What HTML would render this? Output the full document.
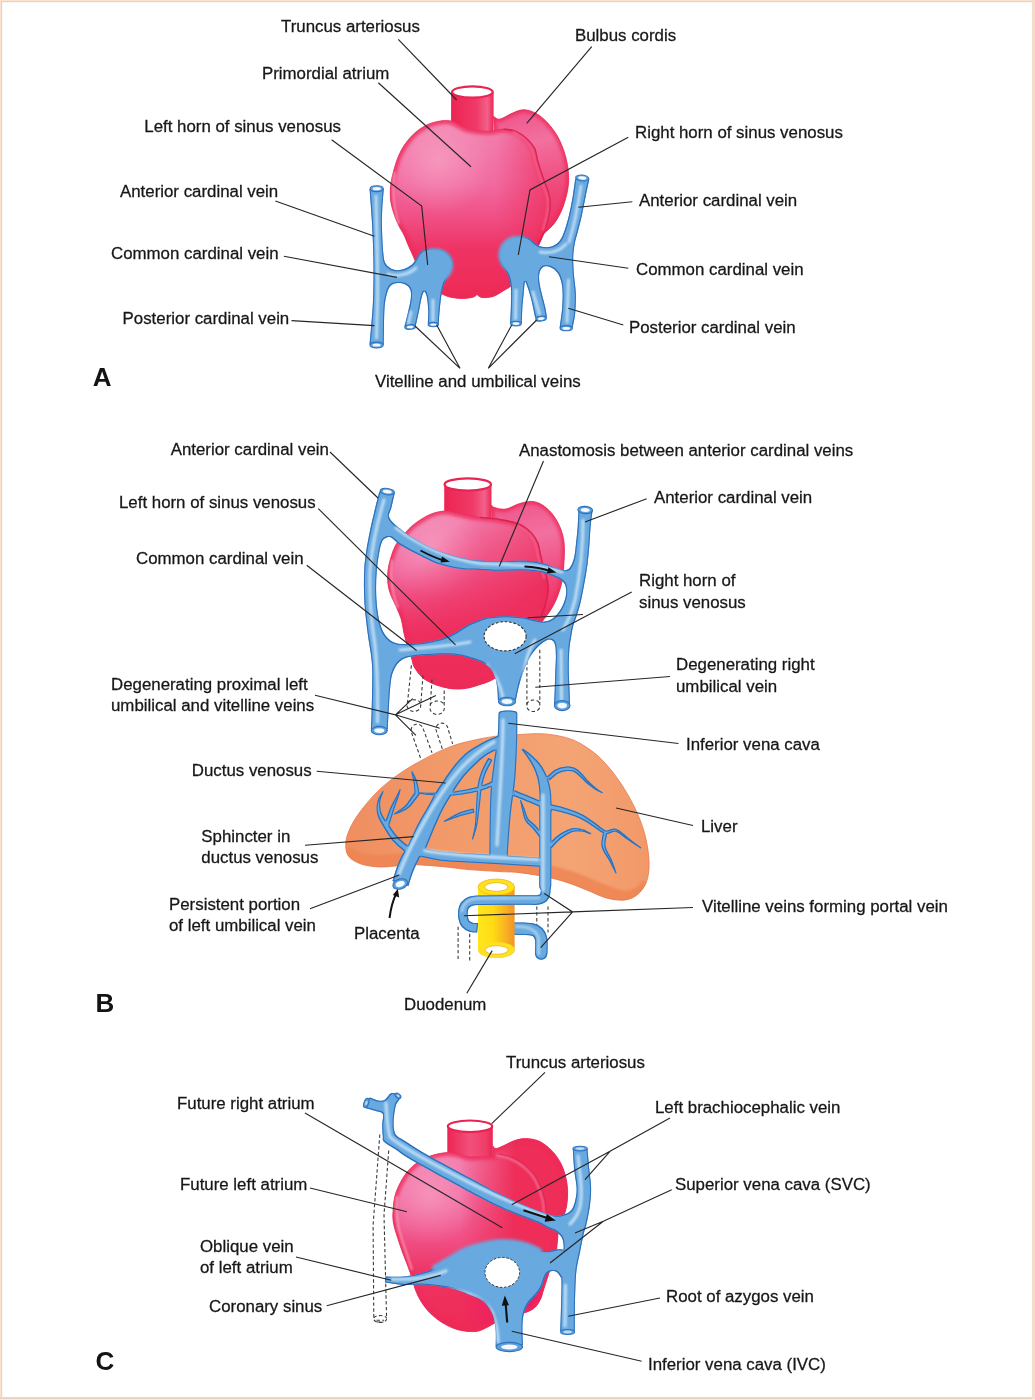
<!DOCTYPE html>
<html lang="en">
<head>
<meta charset="utf-8">
<title>Development of the sinus venosus and veins</title>
<style>
html,body{margin:0;padding:0;background:#fff;}
body{width:1035px;height:1400px;overflow:hidden;position:relative;font-family:"Liberation Sans",sans-serif;}
#frame{position:absolute;left:0;top:0;width:1035px;height:1400px;background:#fff;}
svg{position:absolute;left:0;top:0;display:block;}
.lbl text{font-family:"Liberation Sans",sans-serif;font-size:16.85px;fill:#151515;stroke:#151515;stroke-width:0.28px;}
.lbl text.fig{font-size:26px;font-weight:bold;fill:#111;stroke:none;}
.lead{fill:none;stroke:#262626;stroke-width:1.15;}
.dash{fill:none;stroke:#3c3c3c;stroke-width:1.1;stroke-dasharray:3.4 2.4;}
</style>
</head>
<body>
<div id="frame"></div>
<svg width="1035" height="1400" viewBox="0 0 1035 1400">
<g id="border" shape-rendering="crispEdges">
<rect x="0" y="0" width="1035" height="1" fill="#fde2cf"/>
<rect x="0" y="1" width="1035" height="1" fill="#e4d3c3"/>
<rect x="2" y="2" width="1030" height="1" fill="#faf6f2"/>
<rect x="0" y="0" width="1" height="1400" fill="#fee2cf"/>
<rect x="1" y="1" width="1" height="1398" fill="#e3d2c2"/>
<rect x="2" y="2" width="1" height="1395" fill="#faf8f6"/>
<rect x="1032" y="0" width="3" height="1400" fill="#f5dbc9"/>
<rect x="0" y="1397" width="1032" height="1" fill="#e8dabd"/>
<rect x="0" y="1398" width="1032" height="1" fill="#e3d3bf"/>
<rect x="0" y="1399" width="1035" height="1" fill="#fde8e0"/>
</g>
<defs>
<linearGradient id="gBodyA" gradientUnits="userSpaceOnUse" x1="0" y1="120" x2="0" y2="300">
<stop offset="0" stop-color="#f283b0"/><stop offset="0.35" stop-color="#f16aa0"/><stop offset="0.55" stop-color="#f04e84"/><stop offset="0.72" stop-color="#ee3363"/><stop offset="1" stop-color="#ee2a55"/>
</linearGradient>
<radialGradient id="gHiA" gradientUnits="userSpaceOnUse" cx="438" cy="160" r="55">
<stop offset="0" stop-color="#f9b3d0" stop-opacity="0.55"/><stop offset="1" stop-color="#f9b3d0" stop-opacity="0"/>
</radialGradient>
<linearGradient id="gRtA" gradientUnits="userSpaceOnUse" x1="495" y1="0" x2="552" y2="0">
<stop offset="0" stop-color="#ed2c5a" stop-opacity="0"/><stop offset="1" stop-color="#ed2c5a" stop-opacity="0.75"/>
</linearGradient>
<linearGradient id="gBulbA" gradientUnits="userSpaceOnUse" x1="525" y1="110" x2="555" y2="240">
<stop offset="0" stop-color="#f0568c"/><stop offset="0.25" stop-color="#f2709f"/><stop offset="0.6" stop-color="#ef4a7c"/><stop offset="1" stop-color="#ee2c5c"/>
</linearGradient>
<linearGradient id="gTubeA" gradientUnits="userSpaceOnUse" x1="451" y1="0" x2="494" y2="0">
<stop offset="0" stop-color="#ec2452"/><stop offset="0.6" stop-color="#f03a68"/><stop offset="0.85" stop-color="#f2608a"/><stop offset="1" stop-color="#ea2450"/>
</linearGradient>
<filter id="blur3" x="-30%" y="-30%" width="160%" height="160%"><feGaussianBlur stdDeviation="3"/></filter>
<filter id="blur2" x="-30%" y="-30%" width="160%" height="160%"><feGaussianBlur stdDeviation="1.6"/></filter>
<filter id="blur1" x="-30%" y="-30%" width="160%" height="160%"><feGaussianBlur stdDeviation="0.8"/></filter>
<filter id="vout" filterUnits="userSpaceOnUse" x="330" y="160" width="340" height="1200" color-interpolation-filters="sRGB">
<feMorphology in="SourceAlpha" operator="erode" radius="1" result="er"/>
<feGaussianBlur in="er" stdDeviation="0.35" result="erb"/>
<feComposite in="SourceAlpha" in2="erb" operator="out" result="ring"/>
<feFlood flood-color="#2c6fbb" result="fc"/>
<feComposite in="fc" in2="ring" operator="in" result="cring"/>
<feMerge><feMergeNode in="SourceGraphic"/><feMergeNode in="cring"/></feMerge>
</filter>

<linearGradient id="gBodyB" gradientUnits="userSpaceOnUse" x1="0" y1="510" x2="0" y2="690">
<stop offset="0" stop-color="#f283b0"/><stop offset="0.3" stop-color="#f16aa0"/><stop offset="0.5" stop-color="#f04e84"/><stop offset="0.68" stop-color="#ee3363"/><stop offset="1" stop-color="#ee2a55"/>
</linearGradient>
<radialGradient id="gHiB" gradientUnits="userSpaceOnUse" cx="432" cy="548" r="52">
<stop offset="0" stop-color="#f9b3d0" stop-opacity="0.5"/><stop offset="1" stop-color="#f9b3d0" stop-opacity="0"/>
</radialGradient>
<linearGradient id="gRtB" gradientUnits="userSpaceOnUse" x1="455" y1="525" x2="528" y2="598">
<stop offset="0" stop-color="#ed2c5a" stop-opacity="0"/><stop offset="1" stop-color="#ed2c5a" stop-opacity="0.9"/>
</linearGradient>
<linearGradient id="gBulbB" gradientUnits="userSpaceOnUse" x1="525" y1="500" x2="555" y2="620">
<stop offset="0" stop-color="#f0568c"/><stop offset="0.3" stop-color="#f2709f"/><stop offset="0.65" stop-color="#ef4a7c"/><stop offset="1" stop-color="#ee2c5c"/>
</linearGradient>
<linearGradient id="gTubeB" gradientUnits="userSpaceOnUse" x1="444" y1="0" x2="492" y2="0">
<stop offset="0" stop-color="#ec2452"/><stop offset="0.6" stop-color="#f03a68"/><stop offset="0.85" stop-color="#f2608a"/><stop offset="1" stop-color="#ea2450"/>
</linearGradient>
<linearGradient id="gLiver" gradientUnits="userSpaceOnUse" x1="345" y1="0" x2="650" y2="0">
<stop offset="0" stop-color="#ef8e60"/><stop offset="0.35" stop-color="#f29a6a"/><stop offset="0.75" stop-color="#f4a474"/><stop offset="1" stop-color="#f29868"/>
</linearGradient>
<linearGradient id="gDuo" gradientUnits="userSpaceOnUse" x1="478" y1="0" x2="514.6" y2="0">
<stop offset="0" stop-color="#ffe61e"/><stop offset="0.4" stop-color="#ffdc14"/><stop offset="0.75" stop-color="#f9b222"/><stop offset="1" stop-color="#f0942a"/>
</linearGradient>

<linearGradient id="gBodyC" gradientUnits="userSpaceOnUse" x1="0" y1="1150" x2="0" y2="1332">
<stop offset="0" stop-color="#f283b0"/><stop offset="0.3" stop-color="#f16aa0"/><stop offset="0.5" stop-color="#f04e84"/><stop offset="0.68" stop-color="#ee3363"/><stop offset="1" stop-color="#ee2a55"/>
</linearGradient>
<radialGradient id="gHiC" gradientUnits="userSpaceOnUse" cx="430" cy="1195" r="50">
<stop offset="0" stop-color="#f9b3d0" stop-opacity="0.5"/><stop offset="1" stop-color="#f9b3d0" stop-opacity="0"/>
</radialGradient>
<linearGradient id="gRtC" gradientUnits="userSpaceOnUse" x1="460" y1="0" x2="515" y2="0">
<stop offset="0" stop-color="#ee2d58" stop-opacity="0"/><stop offset="1" stop-color="#ee2d58" stop-opacity="1"/>
</linearGradient>
<radialGradient id="gMgC" gradientUnits="userSpaceOnUse" cx="520" cy="1300" r="60">
<stop offset="0" stop-color="#ec1468" stop-opacity="0.8"/><stop offset="1" stop-color="#ec1468" stop-opacity="0"/>
</radialGradient>
<linearGradient id="gTubeC" gradientUnits="userSpaceOnUse" x1="447" y1="0" x2="493" y2="0">
<stop offset="0" stop-color="#ec2452"/><stop offset="0.5" stop-color="#f2507c"/><stop offset="0.85" stop-color="#f03c68"/><stop offset="1" stop-color="#ea2450"/>
</linearGradient>

</defs>
<g id="figA">
<clipPath id="clipA"><path d="M451 121 C446.5 119.9 442.4 120.5 438 121.4 C433.6 122.3 428.9 123.6 424.4 126.2 C419.9 128.8 415.1 132.1 410.9 136.8 C406.7 141.5 402.5 147.1 399.3 154.2 C396.1 161.3 393.1 171.9 391.6 179.3 C390.1 186.7 390.1 192.9 390.5 198.7 C390.9 204.5 392.6 209.4 394 214 C395.4 218.6 397.3 222.5 399 226 C400.7 229.5 402.3 231.5 404 235 C405.7 238.5 407.3 243.2 409 247 C410.7 250.8 412.2 253.8 414 258 C415.8 262.2 417.3 267.3 420 272 C422.7 276.7 426.3 282.3 430 286 C433.7 289.7 438.3 292.1 442 294 C445.7 295.9 448.5 296.8 452 297.5 C455.5 298.2 459.5 298.6 463 298.5 C466.5 298.4 470.7 297.8 473 297.2 C475.3 296.6 476.3 295 477 294.6 C477.8 295.1 479.3 297.2 482 297.5 C484.7 297.8 489.5 297.6 493 296.5 C496.5 295.4 499.3 293.2 503 291 C506.7 288.8 510.8 286.8 515 283 C519.2 279.2 524.2 274 528 268 C531.8 262 535.2 253.3 538 247 C540.8 240.7 543.1 235.8 545 230 C546.9 224.2 548.7 217 549.5 212 C550.3 207 550.2 203.5 550 200 C549.8 196.5 549.3 195.1 548 191 C546.7 186.9 544 180.7 542.3 175.5 C540.5 170.3 538.8 164.5 537.5 160 C536.2 155.5 536.4 151.9 534.6 148.4 C532.8 144.9 530.1 141.7 526.9 138.8 C523.7 135.9 519.2 132.6 515.3 131 C511.4 129.4 507.6 129.1 503.7 129.1 C499.8 129.1 495.9 130.7 492 131 C488.1 131.3 485 131.5 480.5 131 C476 130.5 469.9 129.8 465 128.1 C460.1 126.4 455.5 122.1 451 121Z"/><path d="M493.6 116.5 C494.6 117 496.8 119.7 499.8 119.2 C502.8 118.7 507.5 115.2 511.4 113.6 C515.3 112 519.1 109.9 523 109.8 C526.9 109.7 530.7 110.8 534.6 112.7 C538.5 114.6 542.3 117.4 546.2 121.4 C550.1 125.4 554.6 131 557.8 136.8 C561 142.6 563.7 149.8 565.5 156.2 C567.3 162.6 568.3 169.8 568.6 175.5 C568.9 181.2 568.5 185.2 567.5 190.7 C566.5 196.2 564.4 203.3 562.3 208.7 C560.1 214.1 557.6 218.8 554.6 222.9 C551.6 227 547.5 230.2 544.3 233.2 C541.1 236.2 536.8 239.6 535.3 240.9 C532.8 234.1 522.5 206.8 520 200 C515.8 189.2 499.2 145.8 495 135 C494.8 131.9 493.8 119.6 493.6 116.5Z"/></clipPath>
<path d="M493.6 116.5 C494.6 117 496.8 119.7 499.8 119.2 C502.8 118.7 507.5 115.2 511.4 113.6 C515.3 112 519.1 109.9 523 109.8 C526.9 109.7 530.7 110.8 534.6 112.7 C538.5 114.6 542.3 117.4 546.2 121.4 C550.1 125.4 554.6 131 557.8 136.8 C561 142.6 563.7 149.8 565.5 156.2 C567.3 162.6 568.3 169.8 568.6 175.5 C568.9 181.2 568.5 185.2 567.5 190.7 C566.5 196.2 564.4 203.3 562.3 208.7 C560.1 214.1 557.6 218.8 554.6 222.9 C551.6 227 547.5 230.2 544.3 233.2 C541.1 236.2 536.8 239.6 535.3 240.9 C532.8 234.1 522.5 206.8 520 200 C515.8 189.2 499.2 145.8 495 135 C494.8 131.9 493.8 119.6 493.6 116.5Z" fill="url(#gBulbA)" stroke="#e3245a" stroke-width="0.8"/>
<clipPath id="clipBulbA"><path d="M493.6 116.5 C494.6 117 496.8 119.7 499.8 119.2 C502.8 118.7 507.5 115.2 511.4 113.6 C515.3 112 519.1 109.9 523 109.8 C526.9 109.7 530.7 110.8 534.6 112.7 C538.5 114.6 542.3 117.4 546.2 121.4 C550.1 125.4 554.6 131 557.8 136.8 C561 142.6 563.7 149.8 565.5 156.2 C567.3 162.6 568.3 169.8 568.6 175.5 C568.9 181.2 568.5 185.2 567.5 190.7 C566.5 196.2 564.4 203.3 562.3 208.7 C560.1 214.1 557.6 218.8 554.6 222.9 C551.6 227 547.5 230.2 544.3 233.2 C541.1 236.2 536.8 239.6 535.3 240.9 C532.8 234.1 522.5 206.8 520 200 C515.8 189.2 499.2 145.8 495 135 C494.8 131.9 493.8 119.6 493.6 116.5Z"/></clipPath>
<g clip-path="url(#clipBulbA)"><path d="M493.6 116.5 C494.6 117 496.8 119.7 499.8 119.2 C502.8 118.7 507.5 115.2 511.4 113.6 C515.3 112 519.1 109.9 523 109.8 C526.9 109.7 530.7 110.8 534.6 112.7 C538.5 114.6 542.3 117.4 546.2 121.4 C550.1 125.4 554.6 131 557.8 136.8 C561 142.6 563.7 149.8 565.5 156.2 C567.3 162.6 568.3 169.8 568.6 175.5 C568.9 181.2 568.5 185.2 567.5 190.7 C566.5 196.2 564.4 203.3 562.3 208.7 C560.1 214.1 557.6 218.8 554.6 222.9 C551.6 227 547.5 230.2 544.3 233.2 C541.1 236.2 536.8 239.6 535.3 240.9 C532.8 234.1 522.5 206.8 520 200 C515.8 189.2 499.2 145.8 495 135 C494.8 131.9 493.8 119.6 493.6 116.5Z" fill="none" stroke="#ee2c58" stroke-width="6" opacity="0.7" filter="url(#blur2)"/></g>
<path d="M451.1 92 L451.1 128 L493.6 133 L493.6 92 Z" fill="url(#gTubeA)"/>
<path d="M451 121 C446.5 119.9 442.4 120.5 438 121.4 C433.6 122.3 428.9 123.6 424.4 126.2 C419.9 128.8 415.1 132.1 410.9 136.8 C406.7 141.5 402.5 147.1 399.3 154.2 C396.1 161.3 393.1 171.9 391.6 179.3 C390.1 186.7 390.1 192.9 390.5 198.7 C390.9 204.5 392.6 209.4 394 214 C395.4 218.6 397.3 222.5 399 226 C400.7 229.5 402.3 231.5 404 235 C405.7 238.5 407.3 243.2 409 247 C410.7 250.8 412.2 253.8 414 258 C415.8 262.2 417.3 267.3 420 272 C422.7 276.7 426.3 282.3 430 286 C433.7 289.7 438.3 292.1 442 294 C445.7 295.9 448.5 296.8 452 297.5 C455.5 298.2 459.5 298.6 463 298.5 C466.5 298.4 470.7 297.8 473 297.2 C475.3 296.6 476.3 295 477 294.6 C477.8 295.1 479.3 297.2 482 297.5 C484.7 297.8 489.5 297.6 493 296.5 C496.5 295.4 499.3 293.2 503 291 C506.7 288.8 510.8 286.8 515 283 C519.2 279.2 524.2 274 528 268 C531.8 262 535.2 253.3 538 247 C540.8 240.7 543.1 235.8 545 230 C546.9 224.2 548.7 217 549.5 212 C550.3 207 550.2 203.5 550 200 C549.8 196.5 549.3 195.1 548 191 C546.7 186.9 544 180.7 542.3 175.5 C540.5 170.3 538.8 164.5 537.5 160 C536.2 155.5 536.4 151.9 534.6 148.4 C532.8 144.9 530.1 141.7 526.9 138.8 C523.7 135.9 519.2 132.6 515.3 131 C511.4 129.4 507.6 129.1 503.7 129.1 C499.8 129.1 495.9 130.7 492 131 C488.1 131.3 485 131.5 480.5 131 C476 130.5 469.9 129.8 465 128.1 C460.1 126.4 455.5 122.1 451 121Z" fill="url(#gBodyA)" stroke="#e9295d" stroke-width="0.8"/>
<path d="M451 121 C446.5 119.9 442.4 120.5 438 121.4 C433.6 122.3 428.9 123.6 424.4 126.2 C419.9 128.8 415.1 132.1 410.9 136.8 C406.7 141.5 402.5 147.1 399.3 154.2 C396.1 161.3 393.1 171.9 391.6 179.3 C390.1 186.7 390.1 192.9 390.5 198.7 C390.9 204.5 392.6 209.4 394 214 C395.4 218.6 397.3 222.5 399 226 C400.7 229.5 402.3 231.5 404 235 C405.7 238.5 407.3 243.2 409 247 C410.7 250.8 412.2 253.8 414 258 C415.8 262.2 417.3 267.3 420 272 C422.7 276.7 426.3 282.3 430 286 C433.7 289.7 438.3 292.1 442 294 C445.7 295.9 448.5 296.8 452 297.5 C455.5 298.2 459.5 298.6 463 298.5 C466.5 298.4 470.7 297.8 473 297.2 C475.3 296.6 476.3 295 477 294.6 C477.8 295.1 479.3 297.2 482 297.5 C484.7 297.8 489.5 297.6 493 296.5 C496.5 295.4 499.3 293.2 503 291 C506.7 288.8 510.8 286.8 515 283 C519.2 279.2 524.2 274 528 268 C531.8 262 535.2 253.3 538 247 C540.8 240.7 543.1 235.8 545 230 C546.9 224.2 548.7 217 549.5 212 C550.3 207 550.2 203.5 550 200 C549.8 196.5 549.3 195.1 548 191 C546.7 186.9 544 180.7 542.3 175.5 C540.5 170.3 538.8 164.5 537.5 160 C536.2 155.5 536.4 151.9 534.6 148.4 C532.8 144.9 530.1 141.7 526.9 138.8 C523.7 135.9 519.2 132.6 515.3 131 C511.4 129.4 507.6 129.1 503.7 129.1 C499.8 129.1 495.9 130.7 492 131 C488.1 131.3 485 131.5 480.5 131 C476 130.5 469.9 129.8 465 128.1 C460.1 126.4 455.5 122.1 451 121Z" fill="url(#gHiA)"/>
<path d="M451 121 C446.5 119.9 442.4 120.5 438 121.4 C433.6 122.3 428.9 123.6 424.4 126.2 C419.9 128.8 415.1 132.1 410.9 136.8 C406.7 141.5 402.5 147.1 399.3 154.2 C396.1 161.3 393.1 171.9 391.6 179.3 C390.1 186.7 390.1 192.9 390.5 198.7 C390.9 204.5 392.6 209.4 394 214 C395.4 218.6 397.3 222.5 399 226 C400.7 229.5 402.3 231.5 404 235 C405.7 238.5 407.3 243.2 409 247 C410.7 250.8 412.2 253.8 414 258 C415.8 262.2 417.3 267.3 420 272 C422.7 276.7 426.3 282.3 430 286 C433.7 289.7 438.3 292.1 442 294 C445.7 295.9 448.5 296.8 452 297.5 C455.5 298.2 459.5 298.6 463 298.5 C466.5 298.4 470.7 297.8 473 297.2 C475.3 296.6 476.3 295 477 294.6 C477.8 295.1 479.3 297.2 482 297.5 C484.7 297.8 489.5 297.6 493 296.5 C496.5 295.4 499.3 293.2 503 291 C506.7 288.8 510.8 286.8 515 283 C519.2 279.2 524.2 274 528 268 C531.8 262 535.2 253.3 538 247 C540.8 240.7 543.1 235.8 545 230 C546.9 224.2 548.7 217 549.5 212 C550.3 207 550.2 203.5 550 200 C549.8 196.5 549.3 195.1 548 191 C546.7 186.9 544 180.7 542.3 175.5 C540.5 170.3 538.8 164.5 537.5 160 C536.2 155.5 536.4 151.9 534.6 148.4 C532.8 144.9 530.1 141.7 526.9 138.8 C523.7 135.9 519.2 132.6 515.3 131 C511.4 129.4 507.6 129.1 503.7 129.1 C499.8 129.1 495.9 130.7 492 131 C488.1 131.3 485 131.5 480.5 131 C476 130.5 469.9 129.8 465 128.1 C460.1 126.4 455.5 122.1 451 121Z" fill="url(#gRtA)"/>
<clipPath id="clipBodyA"><path d="M451 121 C446.5 119.9 442.4 120.5 438 121.4 C433.6 122.3 428.9 123.6 424.4 126.2 C419.9 128.8 415.1 132.1 410.9 136.8 C406.7 141.5 402.5 147.1 399.3 154.2 C396.1 161.3 393.1 171.9 391.6 179.3 C390.1 186.7 390.1 192.9 390.5 198.7 C390.9 204.5 392.6 209.4 394 214 C395.4 218.6 397.3 222.5 399 226 C400.7 229.5 402.3 231.5 404 235 C405.7 238.5 407.3 243.2 409 247 C410.7 250.8 412.2 253.8 414 258 C415.8 262.2 417.3 267.3 420 272 C422.7 276.7 426.3 282.3 430 286 C433.7 289.7 438.3 292.1 442 294 C445.7 295.9 448.5 296.8 452 297.5 C455.5 298.2 459.5 298.6 463 298.5 C466.5 298.4 470.7 297.8 473 297.2 C475.3 296.6 476.3 295 477 294.6 C477.8 295.1 479.3 297.2 482 297.5 C484.7 297.8 489.5 297.6 493 296.5 C496.5 295.4 499.3 293.2 503 291 C506.7 288.8 510.8 286.8 515 283 C519.2 279.2 524.2 274 528 268 C531.8 262 535.2 253.3 538 247 C540.8 240.7 543.1 235.8 545 230 C546.9 224.2 548.7 217 549.5 212 C550.3 207 550.2 203.5 550 200 C549.8 196.5 549.3 195.1 548 191 C546.7 186.9 544 180.7 542.3 175.5 C540.5 170.3 538.8 164.5 537.5 160 C536.2 155.5 536.4 151.9 534.6 148.4 C532.8 144.9 530.1 141.7 526.9 138.8 C523.7 135.9 519.2 132.6 515.3 131 C511.4 129.4 507.6 129.1 503.7 129.1 C499.8 129.1 495.9 130.7 492 131 C488.1 131.3 485 131.5 480.5 131 C476 130.5 469.9 129.8 465 128.1 C460.1 126.4 455.5 122.1 451 121Z"/></clipPath>
<g clip-path="url(#clipBodyA)"><path d="M451 121 C446.5 119.9 442.4 120.5 438 121.4 C433.6 122.3 428.9 123.6 424.4 126.2 C419.9 128.8 415.1 132.1 410.9 136.8 C406.7 141.5 402.5 147.1 399.3 154.2 C396.1 161.3 393.1 171.9 391.6 179.3 C390.1 186.7 390.1 192.9 390.5 198.7 C390.9 204.5 392.6 209.4 394 214 C395.4 218.6 397.3 222.5 399 226 C400.7 229.5 402.3 231.5 404 235 C405.7 238.5 407.3 243.2 409 247 C410.7 250.8 412.2 253.8 414 258 C415.8 262.2 417.3 267.3 420 272 C422.7 276.7 426.3 282.3 430 286 C433.7 289.7 438.3 292.1 442 294 C445.7 295.9 448.5 296.8 452 297.5 C455.5 298.2 459.5 298.6 463 298.5 C466.5 298.4 470.7 297.8 473 297.2 C475.3 296.6 476.3 295 477 294.6 C477.8 295.1 479.3 297.2 482 297.5 C484.7 297.8 489.5 297.6 493 296.5 C496.5 295.4 499.3 293.2 503 291 C506.7 288.8 510.8 286.8 515 283 C519.2 279.2 524.2 274 528 268 C531.8 262 535.2 253.3 538 247 C540.8 240.7 543.1 235.8 545 230 C546.9 224.2 548.7 217 549.5 212 C550.3 207 550.2 203.5 550 200 C549.8 196.5 549.3 195.1 548 191 C546.7 186.9 544 180.7 542.3 175.5 C540.5 170.3 538.8 164.5 537.5 160 C536.2 155.5 536.4 151.9 534.6 148.4 C532.8 144.9 530.1 141.7 526.9 138.8 C523.7 135.9 519.2 132.6 515.3 131 C511.4 129.4 507.6 129.1 503.7 129.1 C499.8 129.1 495.9 130.7 492 131 C488.1 131.3 485 131.5 480.5 131 C476 130.5 469.9 129.8 465 128.1 C460.1 126.4 455.5 122.1 451 121Z" fill="none" stroke="#ee2c58" stroke-width="7" opacity="0.75" filter="url(#blur2)"/></g>
<path d="M503.7 129.1 C505.6 129.4 511.4 129.4 515.3 131 C519.2 132.6 523.7 135.9 526.9 138.8 C530.1 141.7 532.8 144.9 534.6 148.4 C536.4 151.9 536.2 155.5 537.5 160 C538.8 164.5 540.5 170.3 542.3 175.5 C544 180.7 546.7 186.9 548 191 C549.3 195.1 549.8 196.5 550 200 C550.2 203.5 550.3 207 549.5 212 C548.7 217 546.9 224.7 545 230 C543.1 235.3 539.2 241.7 538 244" fill="none" stroke="#d61c50" stroke-width="1.3" opacity="0.9"/>
<path d="M515.3 131 C517.2 132.3 523.7 135.9 526.9 138.8 C530.1 141.7 532.8 144.9 534.6 148.4 C536.4 151.9 536.2 155.5 537.5 160 C538.8 164.5 540.5 170.3 542.3 175.5 C544 180.7 546.7 186.9 548 191 C549.3 195.1 549.8 196.5 550 200 C550.2 203.5 550.3 207 549.5 212 C548.7 217 545.8 227 545 230" fill="none" stroke="#f79bbd" stroke-width="1.2" opacity="0.8" transform="translate(-2.2,0.6)" filter="url(#blur1)"/>
<path d="M394.5 172 C391.8 190 393.5 208 399 224" fill="none" stroke="#fbc4d8" stroke-width="1.6" opacity="0.8" filter="url(#blur1)"/>
<ellipse cx="472.4" cy="92" rx="20.3" ry="5.6" fill="#fff" stroke="#ea2452" stroke-width="2.2"/>
<clipPath id="clipVA"><path d="M369.6 189.1 C372 189.1 381.4 189.1 383.8 189.1 C383.5 192.6 382.5 203.8 382.2 210 C381.9 216.2 381.7 219.4 381.9 226.4 C382.1 233.4 382.6 246 383.2 252.2 C383.8 258.4 384 260.8 385.7 263.7 C387.4 266.6 390.6 268.5 393.4 269.5 C396.2 270.5 399.4 270.2 402.4 269.5 C405.4 268.8 409 266.8 411.4 265 C413.8 263.2 415.1 260.7 416.6 258.6 C418.1 256.5 418.6 253.8 420.5 252.2 C422.4 250.6 425 249.4 428.2 249 C431.4 248.6 436.3 248.7 439.7 249.6 C443.1 250.5 446.5 252.5 448.7 254.7 C450.9 256.8 452.4 259.5 452.6 262.5 C452.8 265.5 451.3 269.5 450 272.7 C448.7 275.9 446.3 278.4 444.9 281.8 C443.5 285.2 442.6 288.6 441.7 293.3 C440.8 298 440.2 304.9 439.7 310 C439.2 315.1 438.9 321.8 438.7 324.2 C436.9 324.2 429.7 324.2 427.9 324.2 C427.9 321.8 428.4 314.5 428.2 310 C428 305.5 427.5 300.3 426.9 297.2 C426.2 294.1 425.2 291.4 424.3 291.4 C423.4 291.4 422.6 294.1 421.7 297.2 C420.8 300.3 420.2 305.3 419.2 310 C418.2 314.7 416.4 322.9 415.9 325.5 C414 325.7 406.3 326.6 404.4 326.8 C404.9 324.6 406.5 318.6 407.6 313.9 C408.7 309.2 410.4 302.6 410.8 298.5 C411.2 294.4 411.2 291.9 410.2 289.5 C409.2 287.1 407.1 285.4 405 284.3 C402.9 283.2 399.7 282.8 397.3 283 C394.9 283.2 392.6 283.9 390.9 285.6 C389.2 287.3 388.1 289.2 387 293.3 C385.9 297.4 384.9 301.4 384.4 310 C383.9 318.6 383.9 339 383.8 344.8 C381.4 344.8 372 344.8 369.6 344.8 C370.2 337.9 372.2 316.9 372.9 303.6 C373.5 290.3 373.6 277.9 373.5 265 C373.4 252.1 372.8 239.1 372.2 226.4 C371.6 213.8 370 195.3 369.6 189.1Z"/><path d="M575.2 179.1 C577.6 179.1 586.9 179.1 589.3 179.1 C588.7 182.1 586.8 191 585.5 197.2 C584.2 203.4 582.9 210.6 581.6 216.4 C580.3 222.2 578.9 227.2 577.7 231.9 C576.5 236.6 575.2 240.4 574.5 244.7 C573.8 249 573.3 252.7 573.2 257.6 C573.1 262.5 573.5 268.3 573.9 274.3 C574.3 280.3 575.6 287.2 575.8 293.6 C576 300 575.7 307.2 575.2 312.9 C574.7 318.6 573 325.2 572.6 327.7 C570.5 327.7 561.9 327.7 559.7 327.7 C560.1 324.2 561.9 313.2 562.3 306.5 C562.7 299.8 562.9 292.6 562.3 287.2 C561.7 281.8 560.2 277.5 558.5 274.3 C556.8 271.1 554.4 269.2 552 267.9 C549.6 266.6 546.3 266 544.3 266.6 C542.3 267.2 540.6 269.4 539.8 271.8 C538.9 274.2 538.9 277.2 539.2 280.8 C539.5 284.4 540.7 289.3 541.7 293.6 C542.7 297.9 544.1 302.6 545 306.5 C545.9 310.4 546.6 315.1 546.9 316.8 C545 317 537.2 317.8 535.3 318 C534.6 315 532.7 305.1 531.4 300 C530.1 294.9 528.7 290.2 527.6 287.2 C526.5 284.2 525.6 280.9 525 282 C524.4 283.1 524.1 289.5 523.7 293.6 C523.3 297.7 522.7 301.6 522.4 306.5 C522.1 311.4 521.9 320.4 521.8 323.2 C519.9 323.2 512.1 323.2 510.2 323.2 C510.3 320.4 510.8 312.5 510.9 306.5 C511 300.5 511.4 292.6 510.9 287.2 C510.4 281.8 509.2 277.9 507.7 274.3 C506.2 270.7 503.3 268.1 501.9 265.3 C500.5 262.5 499.3 260.6 499.3 257.6 C499.3 254.6 500.2 250.3 501.9 247.3 C503.6 244.3 506.6 241.4 509.6 239.6 C512.6 237.8 516.7 236.6 519.9 236.4 C523.1 236.2 526.3 237.1 528.9 238.3 C531.5 239.5 533.2 242.1 535.3 243.5 C537.4 244.9 539.1 246.2 541.7 246.7 C544.3 247.2 547.9 247.4 550.7 246.7 C553.5 245.9 556.4 244.4 558.5 242.2 C560.6 239.9 561.9 237.5 563.6 233.2 C565.3 228.9 567.2 222.4 568.7 216.4 C570.2 210.4 571.5 203.4 572.6 197.2 C573.7 191 574.8 182.1 575.2 179.1Z"/></clipPath>
<g filter="url(#vout)">
<path d="M369.6 189.1 C372 189.1 381.4 189.1 383.8 189.1 C383.5 192.6 382.5 203.8 382.2 210 C381.9 216.2 381.7 219.4 381.9 226.4 C382.1 233.4 382.6 246 383.2 252.2 C383.8 258.4 384 260.8 385.7 263.7 C387.4 266.6 390.6 268.5 393.4 269.5 C396.2 270.5 399.4 270.2 402.4 269.5 C405.4 268.8 409 266.8 411.4 265 C413.8 263.2 415.1 260.7 416.6 258.6 C418.1 256.5 418.6 253.8 420.5 252.2 C422.4 250.6 425 249.4 428.2 249 C431.4 248.6 436.3 248.7 439.7 249.6 C443.1 250.5 446.5 252.5 448.7 254.7 C450.9 256.8 452.4 259.5 452.6 262.5 C452.8 265.5 451.3 269.5 450 272.7 C448.7 275.9 446.3 278.4 444.9 281.8 C443.5 285.2 442.6 288.6 441.7 293.3 C440.8 298 440.2 304.9 439.7 310 C439.2 315.1 438.9 321.8 438.7 324.2 C436.9 324.2 429.7 324.2 427.9 324.2 C427.9 321.8 428.4 314.5 428.2 310 C428 305.5 427.5 300.3 426.9 297.2 C426.2 294.1 425.2 291.4 424.3 291.4 C423.4 291.4 422.6 294.1 421.7 297.2 C420.8 300.3 420.2 305.3 419.2 310 C418.2 314.7 416.4 322.9 415.9 325.5 C414 325.7 406.3 326.6 404.4 326.8 C404.9 324.6 406.5 318.6 407.6 313.9 C408.7 309.2 410.4 302.6 410.8 298.5 C411.2 294.4 411.2 291.9 410.2 289.5 C409.2 287.1 407.1 285.4 405 284.3 C402.9 283.2 399.7 282.8 397.3 283 C394.9 283.2 392.6 283.9 390.9 285.6 C389.2 287.3 388.1 289.2 387 293.3 C385.9 297.4 384.9 301.4 384.4 310 C383.9 318.6 383.9 339 383.8 344.8 C381.4 344.8 372 344.8 369.6 344.8 C370.2 337.9 372.2 316.9 372.9 303.6 C373.5 290.3 373.6 277.9 373.5 265 C373.4 252.1 372.8 239.1 372.2 226.4 C371.6 213.8 370 195.3 369.6 189.1Z" fill="#68a9df"/>
<path d="M575.2 179.1 C577.6 179.1 586.9 179.1 589.3 179.1 C588.7 182.1 586.8 191 585.5 197.2 C584.2 203.4 582.9 210.6 581.6 216.4 C580.3 222.2 578.9 227.2 577.7 231.9 C576.5 236.6 575.2 240.4 574.5 244.7 C573.8 249 573.3 252.7 573.2 257.6 C573.1 262.5 573.5 268.3 573.9 274.3 C574.3 280.3 575.6 287.2 575.8 293.6 C576 300 575.7 307.2 575.2 312.9 C574.7 318.6 573 325.2 572.6 327.7 C570.5 327.7 561.9 327.7 559.7 327.7 C560.1 324.2 561.9 313.2 562.3 306.5 C562.7 299.8 562.9 292.6 562.3 287.2 C561.7 281.8 560.2 277.5 558.5 274.3 C556.8 271.1 554.4 269.2 552 267.9 C549.6 266.6 546.3 266 544.3 266.6 C542.3 267.2 540.6 269.4 539.8 271.8 C538.9 274.2 538.9 277.2 539.2 280.8 C539.5 284.4 540.7 289.3 541.7 293.6 C542.7 297.9 544.1 302.6 545 306.5 C545.9 310.4 546.6 315.1 546.9 316.8 C545 317 537.2 317.8 535.3 318 C534.6 315 532.7 305.1 531.4 300 C530.1 294.9 528.7 290.2 527.6 287.2 C526.5 284.2 525.6 280.9 525 282 C524.4 283.1 524.1 289.5 523.7 293.6 C523.3 297.7 522.7 301.6 522.4 306.5 C522.1 311.4 521.9 320.4 521.8 323.2 C519.9 323.2 512.1 323.2 510.2 323.2 C510.3 320.4 510.8 312.5 510.9 306.5 C511 300.5 511.4 292.6 510.9 287.2 C510.4 281.8 509.2 277.9 507.7 274.3 C506.2 270.7 503.3 268.1 501.9 265.3 C500.5 262.5 499.3 260.6 499.3 257.6 C499.3 254.6 500.2 250.3 501.9 247.3 C503.6 244.3 506.6 241.4 509.6 239.6 C512.6 237.8 516.7 236.6 519.9 236.4 C523.1 236.2 526.3 237.1 528.9 238.3 C531.5 239.5 533.2 242.1 535.3 243.5 C537.4 244.9 539.1 246.2 541.7 246.7 C544.3 247.2 547.9 247.4 550.7 246.7 C553.5 245.9 556.4 244.4 558.5 242.2 C560.6 239.9 561.9 237.5 563.6 233.2 C565.3 228.9 567.2 222.4 568.7 216.4 C570.2 210.4 571.5 203.4 572.6 197.2 C573.7 191 574.8 182.1 575.2 179.1Z" fill="#68a9df"/>
</g>
<g clip-path="url(#clipA)"><ellipse cx="435" cy="265.5" rx="18" ry="17" fill="#68a9df" filter="url(#blur2)"/><ellipse cx="516.5" cy="254.5" rx="18" ry="18.5" fill="#68a9df" filter="url(#blur2)"/></g>
<g clip-path="url(#clipVA)"><g fill="none" stroke="#c6e2f6" stroke-width="3" stroke-linecap="round" opacity="0.9" filter="url(#blur1)">
<path d="M376 196 C376.5 230 378 262 377.5 300 L376.5 338"/>
<path d="M411 312 L408.5 323"/>
<path d="M433 300 L433 321"/>
<path d="M388 274 C396 277 408 275 416 268"/>
<path d="M581 186 C578 206 574 226 569 242"/>
<path d="M568.5 280 L567 322"/>
<path d="M516 290 L515.5 319"/>
<path d="M533 292 L539.5 314"/>
<path d="M540 252 C550 254 560 251 566 244"/>
</g></g>
<ellipse cx="376.7" cy="188.7" rx="6.6" ry="2.9" transform="rotate(0 376.7 188.7)" fill="#5d9fd9" stroke="#2f73bd" stroke-width="1.1"/><ellipse cx="376.7" cy="188.7" rx="4.1" ry="1.6" transform="rotate(0 376.7 188.7)" fill="#f2f8fd"/>
<ellipse cx="376.6" cy="345" rx="6.6" ry="2.9" transform="rotate(0 376.6 345)" fill="#5d9fd9" stroke="#2f73bd" stroke-width="1.1"/><ellipse cx="376.6" cy="345" rx="4.1" ry="1.6" transform="rotate(0 376.6 345)" fill="#f2f8fd"/>
<ellipse cx="410.2" cy="327" rx="5.4" ry="2.3" transform="rotate(-6 410.2 327)" fill="#5d9fd9" stroke="#2f73bd" stroke-width="1.1"/><ellipse cx="410.2" cy="327" rx="3.3" ry="1.3" transform="rotate(-6 410.2 327)" fill="#f2f8fd"/>
<ellipse cx="433.3" cy="324.6" rx="5.1" ry="2.2" transform="rotate(0 433.3 324.6)" fill="#5d9fd9" stroke="#2f73bd" stroke-width="1.1"/><ellipse cx="433.3" cy="324.6" rx="3.2" ry="1.2" transform="rotate(0 433.3 324.6)" fill="#f2f8fd"/>
<ellipse cx="582.2" cy="178" rx="6.6" ry="3" transform="rotate(6 582.2 178)" fill="#5d9fd9" stroke="#2f73bd" stroke-width="1.1"/><ellipse cx="582.2" cy="178" rx="4.1" ry="1.7" transform="rotate(6 582.2 178)" fill="#f2f8fd"/>
<ellipse cx="566.2" cy="328.2" rx="6.1" ry="2.6" transform="rotate(0 566.2 328.2)" fill="#5d9fd9" stroke="#2f73bd" stroke-width="1.1"/><ellipse cx="566.2" cy="328.2" rx="3.8" ry="1.5" transform="rotate(0 566.2 328.2)" fill="#f2f8fd"/>
<ellipse cx="541.1" cy="318.6" rx="5.4" ry="2.4" transform="rotate(-8 541.1 318.6)" fill="#5d9fd9" stroke="#2f73bd" stroke-width="1.1"/><ellipse cx="541.1" cy="318.6" rx="3.3" ry="1.3" transform="rotate(-8 541.1 318.6)" fill="#f2f8fd"/>
<ellipse cx="516" cy="323.6" rx="5.4" ry="2.4" transform="rotate(0 516 323.6)" fill="#5d9fd9" stroke="#2f73bd" stroke-width="1.1"/><ellipse cx="516" cy="323.6" rx="3.3" ry="1.3" transform="rotate(0 516 323.6)" fill="#f2f8fd"/>
</g>
<g id="figB">
<path d="M491.5 505 C491.9 505.4 491.7 506.7 494.1 507.4 C496.5 508.1 501.6 509.7 505.7 509.1 C509.8 508.5 514.3 505.2 518.6 503.9 C522.9 502.6 527.5 501.3 531.4 501.4 C535.2 501.5 538.3 502.6 541.7 504.6 C545.1 506.6 549 510 552 513.6 C555 517.2 557.8 522.1 559.7 526.4 C561.6 530.7 562.8 535 563.6 539.3 C564.4 543.6 564.4 547.8 564.4 552.2 C564.4 556.7 564.1 561.3 563.7 566 C563.4 570.7 563.4 575.3 562.3 580.5 C561.2 585.7 559.1 592.3 557.2 597.2 C555.3 602.1 553.1 606.1 550.7 610 C548.3 613.9 544.3 618.6 543 620.3 C539.2 613.6 523.8 586.7 520 580 C515.3 570 496.7 530 492 520 C491.9 517.5 491.6 507.5 491.5 505Z" fill="url(#gBulbB)" stroke="#e3245a" stroke-width="0.8"/>
<clipPath id="clipBulbB"><path d="M491.5 505 C491.9 505.4 491.7 506.7 494.1 507.4 C496.5 508.1 501.6 509.7 505.7 509.1 C509.8 508.5 514.3 505.2 518.6 503.9 C522.9 502.6 527.5 501.3 531.4 501.4 C535.2 501.5 538.3 502.6 541.7 504.6 C545.1 506.6 549 510 552 513.6 C555 517.2 557.8 522.1 559.7 526.4 C561.6 530.7 562.8 535 563.6 539.3 C564.4 543.6 564.4 547.8 564.4 552.2 C564.4 556.7 564.1 561.3 563.7 566 C563.4 570.7 563.4 575.3 562.3 580.5 C561.2 585.7 559.1 592.3 557.2 597.2 C555.3 602.1 553.1 606.1 550.7 610 C548.3 613.9 544.3 618.6 543 620.3 C539.2 613.6 523.8 586.7 520 580 C515.3 570 496.7 530 492 520 C491.9 517.5 491.6 507.5 491.5 505Z"/></clipPath>
<g clip-path="url(#clipBulbB)"><path d="M491.5 505 C491.9 505.4 491.7 506.7 494.1 507.4 C496.5 508.1 501.6 509.7 505.7 509.1 C509.8 508.5 514.3 505.2 518.6 503.9 C522.9 502.6 527.5 501.3 531.4 501.4 C535.2 501.5 538.3 502.6 541.7 504.6 C545.1 506.6 549 510 552 513.6 C555 517.2 557.8 522.1 559.7 526.4 C561.6 530.7 562.8 535 563.6 539.3 C564.4 543.6 564.4 547.8 564.4 552.2 C564.4 556.7 564.1 561.3 563.7 566 C563.4 570.7 563.4 575.3 562.3 580.5 C561.2 585.7 559.1 592.3 557.2 597.2 C555.3 602.1 553.1 606.1 550.7 610 C548.3 613.9 544.3 618.6 543 620.3 C539.2 613.6 523.8 586.7 520 580 C515.3 570 496.7 530 492 520 C491.9 517.5 491.6 507.5 491.5 505Z" fill="none" stroke="#ee2c58" stroke-width="6" opacity="0.7" filter="url(#blur2)"/></g>
<path d="M444.2 484.5 L444.2 516 L491.5 522 L491.5 484.5 Z" fill="url(#gTubeB)"/>
<path d="M444.2 511 C441.2 511.2 437.3 511.9 434 513 C430.7 514.1 428.1 515.2 424.3 517.4 C420.5 519.6 415.1 523.1 411.4 526.4 C407.7 529.7 404.8 533.6 402 537 C399.2 540.4 396.9 542.3 394.7 547 C392.5 551.7 390.1 559.4 388.9 565 C387.7 570.6 387.5 575.8 387.7 580.5 C387.9 585.2 388.8 589 390.2 593.3 C391.6 597.6 394.2 601.9 396 606.2 C397.8 610.5 399.9 614.7 401.2 619 C402.5 623.3 402.8 628 403.7 631.9 C404.6 635.8 405 637.9 406.3 642.2 C407.6 646.5 410.1 653.5 411.4 657.6 C412.7 661.7 412.3 663.4 414 666.6 C415.7 669.8 418.7 674.1 421.7 676.9 C424.7 679.7 428.4 681.6 432 683.3 C435.6 685 439.5 686.2 443.6 687.2 C447.7 688.2 452.2 689 456.5 689.1 C460.8 689.2 465.4 688.5 469.3 687.8 C473.2 687 476.2 685.9 480 684.6 C483.8 683.3 487.7 682.4 492 680 C496.3 677.6 501.3 674.2 506 670 C510.7 665.8 515.3 660.7 520 655 C524.7 649.3 530.2 641.8 534 636 C537.8 630.2 541.1 625.7 543 620.3 C544.9 614.9 544.7 608.5 545.6 603.6 C546.5 598.7 548 595.1 548.2 590.8 C548.4 586.5 547.8 582.2 546.9 577.9 C546 573.6 544.1 568.9 543 565 C541.9 561.1 541.4 558.3 540.5 554.7 C539.6 551.1 539.4 546.8 537.9 543.2 C536.4 539.6 534.6 536.1 531.4 532.9 C528.2 529.7 524 526.1 518.6 523.9 C513.2 521.6 505.7 520.5 499.3 519.4 C492.9 518.3 485.7 518.1 480 517.4 C474.3 516.7 469.7 515.9 465 515 C460.3 514.1 455.5 512.7 452 512 C448.5 511.3 447.2 510.8 444.2 511Z" fill="url(#gBodyB)" stroke="#e9295d" stroke-width="0.8"/>
<path d="M444.2 511 C441.2 511.2 437.3 511.9 434 513 C430.7 514.1 428.1 515.2 424.3 517.4 C420.5 519.6 415.1 523.1 411.4 526.4 C407.7 529.7 404.8 533.6 402 537 C399.2 540.4 396.9 542.3 394.7 547 C392.5 551.7 390.1 559.4 388.9 565 C387.7 570.6 387.5 575.8 387.7 580.5 C387.9 585.2 388.8 589 390.2 593.3 C391.6 597.6 394.2 601.9 396 606.2 C397.8 610.5 399.9 614.7 401.2 619 C402.5 623.3 402.8 628 403.7 631.9 C404.6 635.8 405 637.9 406.3 642.2 C407.6 646.5 410.1 653.5 411.4 657.6 C412.7 661.7 412.3 663.4 414 666.6 C415.7 669.8 418.7 674.1 421.7 676.9 C424.7 679.7 428.4 681.6 432 683.3 C435.6 685 439.5 686.2 443.6 687.2 C447.7 688.2 452.2 689 456.5 689.1 C460.8 689.2 465.4 688.5 469.3 687.8 C473.2 687 476.2 685.9 480 684.6 C483.8 683.3 487.7 682.4 492 680 C496.3 677.6 501.3 674.2 506 670 C510.7 665.8 515.3 660.7 520 655 C524.7 649.3 530.2 641.8 534 636 C537.8 630.2 541.1 625.7 543 620.3 C544.9 614.9 544.7 608.5 545.6 603.6 C546.5 598.7 548 595.1 548.2 590.8 C548.4 586.5 547.8 582.2 546.9 577.9 C546 573.6 544.1 568.9 543 565 C541.9 561.1 541.4 558.3 540.5 554.7 C539.6 551.1 539.4 546.8 537.9 543.2 C536.4 539.6 534.6 536.1 531.4 532.9 C528.2 529.7 524 526.1 518.6 523.9 C513.2 521.6 505.7 520.5 499.3 519.4 C492.9 518.3 485.7 518.1 480 517.4 C474.3 516.7 469.7 515.9 465 515 C460.3 514.1 455.5 512.7 452 512 C448.5 511.3 447.2 510.8 444.2 511Z" fill="url(#gHiB)"/>
<path d="M444.2 511 C441.2 511.2 437.3 511.9 434 513 C430.7 514.1 428.1 515.2 424.3 517.4 C420.5 519.6 415.1 523.1 411.4 526.4 C407.7 529.7 404.8 533.6 402 537 C399.2 540.4 396.9 542.3 394.7 547 C392.5 551.7 390.1 559.4 388.9 565 C387.7 570.6 387.5 575.8 387.7 580.5 C387.9 585.2 388.8 589 390.2 593.3 C391.6 597.6 394.2 601.9 396 606.2 C397.8 610.5 399.9 614.7 401.2 619 C402.5 623.3 402.8 628 403.7 631.9 C404.6 635.8 405 637.9 406.3 642.2 C407.6 646.5 410.1 653.5 411.4 657.6 C412.7 661.7 412.3 663.4 414 666.6 C415.7 669.8 418.7 674.1 421.7 676.9 C424.7 679.7 428.4 681.6 432 683.3 C435.6 685 439.5 686.2 443.6 687.2 C447.7 688.2 452.2 689 456.5 689.1 C460.8 689.2 465.4 688.5 469.3 687.8 C473.2 687 476.2 685.9 480 684.6 C483.8 683.3 487.7 682.4 492 680 C496.3 677.6 501.3 674.2 506 670 C510.7 665.8 515.3 660.7 520 655 C524.7 649.3 530.2 641.8 534 636 C537.8 630.2 541.1 625.7 543 620.3 C544.9 614.9 544.7 608.5 545.6 603.6 C546.5 598.7 548 595.1 548.2 590.8 C548.4 586.5 547.8 582.2 546.9 577.9 C546 573.6 544.1 568.9 543 565 C541.9 561.1 541.4 558.3 540.5 554.7 C539.6 551.1 539.4 546.8 537.9 543.2 C536.4 539.6 534.6 536.1 531.4 532.9 C528.2 529.7 524 526.1 518.6 523.9 C513.2 521.6 505.7 520.5 499.3 519.4 C492.9 518.3 485.7 518.1 480 517.4 C474.3 516.7 469.7 515.9 465 515 C460.3 514.1 455.5 512.7 452 512 C448.5 511.3 447.2 510.8 444.2 511Z" fill="url(#gRtB)"/>
<clipPath id="clipBodyB"><path d="M444.2 511 C441.2 511.2 437.3 511.9 434 513 C430.7 514.1 428.1 515.2 424.3 517.4 C420.5 519.6 415.1 523.1 411.4 526.4 C407.7 529.7 404.8 533.6 402 537 C399.2 540.4 396.9 542.3 394.7 547 C392.5 551.7 390.1 559.4 388.9 565 C387.7 570.6 387.5 575.8 387.7 580.5 C387.9 585.2 388.8 589 390.2 593.3 C391.6 597.6 394.2 601.9 396 606.2 C397.8 610.5 399.9 614.7 401.2 619 C402.5 623.3 402.8 628 403.7 631.9 C404.6 635.8 405 637.9 406.3 642.2 C407.6 646.5 410.1 653.5 411.4 657.6 C412.7 661.7 412.3 663.4 414 666.6 C415.7 669.8 418.7 674.1 421.7 676.9 C424.7 679.7 428.4 681.6 432 683.3 C435.6 685 439.5 686.2 443.6 687.2 C447.7 688.2 452.2 689 456.5 689.1 C460.8 689.2 465.4 688.5 469.3 687.8 C473.2 687 476.2 685.9 480 684.6 C483.8 683.3 487.7 682.4 492 680 C496.3 677.6 501.3 674.2 506 670 C510.7 665.8 515.3 660.7 520 655 C524.7 649.3 530.2 641.8 534 636 C537.8 630.2 541.1 625.7 543 620.3 C544.9 614.9 544.7 608.5 545.6 603.6 C546.5 598.7 548 595.1 548.2 590.8 C548.4 586.5 547.8 582.2 546.9 577.9 C546 573.6 544.1 568.9 543 565 C541.9 561.1 541.4 558.3 540.5 554.7 C539.6 551.1 539.4 546.8 537.9 543.2 C536.4 539.6 534.6 536.1 531.4 532.9 C528.2 529.7 524 526.1 518.6 523.9 C513.2 521.6 505.7 520.5 499.3 519.4 C492.9 518.3 485.7 518.1 480 517.4 C474.3 516.7 469.7 515.9 465 515 C460.3 514.1 455.5 512.7 452 512 C448.5 511.3 447.2 510.8 444.2 511Z"/></clipPath>
<g clip-path="url(#clipBodyB)"><path d="M444.2 511 C441.2 511.2 437.3 511.9 434 513 C430.7 514.1 428.1 515.2 424.3 517.4 C420.5 519.6 415.1 523.1 411.4 526.4 C407.7 529.7 404.8 533.6 402 537 C399.2 540.4 396.9 542.3 394.7 547 C392.5 551.7 390.1 559.4 388.9 565 C387.7 570.6 387.5 575.8 387.7 580.5 C387.9 585.2 388.8 589 390.2 593.3 C391.6 597.6 394.2 601.9 396 606.2 C397.8 610.5 399.9 614.7 401.2 619 C402.5 623.3 402.8 628 403.7 631.9 C404.6 635.8 405 637.9 406.3 642.2 C407.6 646.5 410.1 653.5 411.4 657.6 C412.7 661.7 412.3 663.4 414 666.6 C415.7 669.8 418.7 674.1 421.7 676.9 C424.7 679.7 428.4 681.6 432 683.3 C435.6 685 439.5 686.2 443.6 687.2 C447.7 688.2 452.2 689 456.5 689.1 C460.8 689.2 465.4 688.5 469.3 687.8 C473.2 687 476.2 685.9 480 684.6 C483.8 683.3 487.7 682.4 492 680 C496.3 677.6 501.3 674.2 506 670 C510.7 665.8 515.3 660.7 520 655 C524.7 649.3 530.2 641.8 534 636 C537.8 630.2 541.1 625.7 543 620.3 C544.9 614.9 544.7 608.5 545.6 603.6 C546.5 598.7 548 595.1 548.2 590.8 C548.4 586.5 547.8 582.2 546.9 577.9 C546 573.6 544.1 568.9 543 565 C541.9 561.1 541.4 558.3 540.5 554.7 C539.6 551.1 539.4 546.8 537.9 543.2 C536.4 539.6 534.6 536.1 531.4 532.9 C528.2 529.7 524 526.1 518.6 523.9 C513.2 521.6 505.7 520.5 499.3 519.4 C492.9 518.3 485.7 518.1 480 517.4 C474.3 516.7 469.7 515.9 465 515 C460.3 514.1 455.5 512.7 452 512 C448.5 511.3 447.2 510.8 444.2 511Z" fill="none" stroke="#ee2c58" stroke-width="7" opacity="0.75" filter="url(#blur2)"/></g>
<path d="M480 517.4 C483.2 517.7 492.9 518.3 499.3 519.4 C505.7 520.5 513.2 521.6 518.6 523.9 C524 526.1 528.2 529.7 531.4 532.9 C534.6 536.1 536.4 539.6 537.9 543.2 C539.4 546.8 539.6 551.1 540.5 554.7 C541.4 558.3 541.9 561.1 543 565 C544.1 568.9 546 573.6 546.9 577.9 C547.8 582.2 548.4 586.5 548.2 590.8 C548 595.1 546.8 599.4 545.6 603.6 C544.4 607.8 541.8 613.9 541 616" fill="none" stroke="#d61c50" stroke-width="1.3" opacity="0.9"/>
<path d="M518.6 523.9 C520.7 525.4 528.2 529.7 531.4 532.9 C534.6 536.1 536.4 539.6 537.9 543.2 C539.4 546.8 539.6 551.1 540.5 554.7 C541.4 558.3 541.9 561.1 543 565 C544.1 568.9 546.2 575.8 546.9 577.9" fill="none" stroke="#f79bbd" stroke-width="1.2" opacity="0.8" transform="translate(-2.4,0.8)" filter="url(#blur1)"/>
<path d="M392 560 C389.5 578 392 594 398 608" fill="none" stroke="#fbc4d8" stroke-width="1.6" opacity="0.8" filter="url(#blur1)"/>
<ellipse cx="467.8" cy="484.5" rx="23.2" ry="6.1" fill="#fff" stroke="#ea2452" stroke-width="2.2"/>
<g class="dash">
<path d="M411.4 665.3 L407.6 702 A6.6 6 0 0 0 420.5 707.7 L423 675.6"/>
<path d="M407.8 703 A6.4 4 0 0 1 420.4 703"/>
<path d="M432 679.5 L430.1 707.7 A7 6 0 0 0 444.2 709 L444.2 688.5"/>
<path d="M430.3 705 A7 4.5 0 0 1 444.2 705"/>
<path d="M420.5 757.9 L411.4 732.2 A6 6 0 0 1 423 728.3 L432 752.8"/>
<path d="M442.3 748.9 L435.9 729.6 A6 6 0 0 1 447.5 727 L452.6 743.8"/>
<path d="M526.9 661.4 L526.9 706.5 A6.4 5 0 0 0 539.8 706.5 L539.8 648.6"/>
<path d="M527 704.5 A6.4 4.5 0 0 1 539.8 704.5"/>
<path d="M458.1 926.7 L458.1 961.4"/>
<path d="M469.7 928 L469.7 961.4"/>
<path d="M536.8 906.4 L536.8 932.5"/>
<path d="M548 906.4 L548 932.5"/>
</g>
<clipPath id="clipVB"><path d="M379.3 491.7 C381.9 491.9 392.1 492.8 394.7 493 C394.2 495.4 392.5 503.3 391.5 507.2 C390.5 511.1 388.6 513.6 388.9 516.2 C389.2 518.8 391.5 520.9 393.4 522.9 C395.2 524.9 397.6 526.5 400 528.5 C402.4 530.5 403.8 532 407.7 534.6 C411.6 537.2 418 541.2 423.2 543.9 C428.4 546.6 433.5 548.9 438.6 550.9 C443.8 552.9 448.9 554.5 454.1 555.9 C459.3 557.3 465.3 558.6 469.6 559.4 C473.9 560.2 476.1 560.2 480 560.5 C483.9 560.8 487.5 561.1 492.9 561.2 C498.3 561.3 505.8 560.9 512.2 560.9 C518.6 560.9 526 560.7 531.4 561.2 C536.8 561.7 540 562.5 544.3 563.7 C548.6 564.9 553.8 567.1 557.2 568.2 C560.6 569.3 562.8 570.3 564.9 570.2 C567 570.1 568.5 569.5 570 567.6 C571.5 565.7 572.9 562.2 573.9 558.6 C574.9 555 575.2 551.1 575.8 545.7 C576.4 540.3 577.3 532.2 577.7 526.4 C578.1 520.6 578.3 513.6 578.4 511 C580.8 511 590.1 511 592.5 511 C592.2 513.6 591.1 520.6 590.6 526.4 C590.1 532.2 589.8 539.3 589.3 545.7 C588.8 552.1 588.2 558.6 587.4 565 C586.5 571.4 585.4 577.9 584.2 584.3 C583 590.7 581.6 598.2 580.3 603.6 C579 609 577.7 612.8 576.5 616.5 C575.3 620.2 574.1 622.8 573.2 626 C572.3 629.2 571.9 632.2 571.3 636 C570.7 639.8 569.8 643.3 569.4 648.6 C569 653.9 568.7 661.5 568.7 667.9 C568.7 674.3 569.2 681 569.4 687.2 C569.6 693.4 569.9 702.2 570 705.2 C567.3 705.2 556.7 705.2 554 705.2 C554.1 703.3 554.4 698.8 554.6 693.6 C554.8 688.5 555 680.7 555.2 674.3 C555.4 667.9 556 660.1 555.9 655 C555.8 649.9 555.7 646 554.6 643.4 C553.5 640.8 551.6 639.6 549.5 639.6 C547.4 639.6 544.3 641.5 541.7 643.4 C539.1 645.3 536.4 648.2 534 651.2 C531.6 654.2 529.5 657.5 527.6 661.4 C525.7 665.2 523.9 670 522.4 674.3 C520.9 678.6 519.7 682.9 518.6 687.2 C517.5 691.5 516.4 697.9 516 700 C513 700 501 700 498 700 C497.9 698.3 497.8 693.3 497.4 689.7 C497 686.1 496.6 681.8 495.4 678.2 C494.2 674.6 492.9 670.7 490.3 667.9 C487.7 665.1 483.5 663.1 480 661.4 C476.5 659.7 473.2 659 469.3 657.9 C465.4 656.8 461.9 655.6 456.5 655 C451.1 654.4 443.6 654.3 437.2 654.4 C430.8 654.5 423.3 655.1 417.9 655.7 C412.5 656.3 408.4 656.8 405 658.2 C401.6 659.6 399.4 661.3 397.3 664 C395.2 666.7 393.4 670.4 392.2 674.3 C391 678.2 390.8 681.8 390.2 687.2 C389.6 692.6 389.3 699.4 388.9 706.5 C388.5 713.6 387.9 725.8 387.7 729.6 C384.9 729.6 373.7 729.6 370.9 729.6 C371 726.8 371.4 720 371.6 712.9 C371.8 705.8 372.1 694.7 372.2 687.2 C372.3 679.7 372.4 673.3 372.2 667.9 C372 662.5 371.5 659.3 371 655 C370.5 650.7 369.8 647.6 369 642.2 C368.2 636.9 367.1 629.3 366.4 622.9 C365.6 616.5 364.9 610 364.5 603.6 C364.1 597.2 363.9 590.7 363.9 584.3 C363.9 577.9 364 571.4 364.5 565 C365 558.6 366 552.1 367.1 545.7 C368.2 539.3 369.5 532.8 370.9 526.4 C372.3 520 374 513 375.4 507.2 C376.8 501.4 378.6 494.3 379.3 491.7Z M385.7 538.1 C387.2 537.4 388.6 536.4 391 537.5 C393.4 538.6 395.9 542.1 400 544.7 C404.1 547.3 410.4 550.5 415.5 553.2 C420.6 555.9 427 559.1 430.9 560.9 C434.8 562.7 434.7 562.8 438.6 564 C442.5 565.2 448.9 567 454.1 567.9 C459.3 568.8 465.3 569.2 469.6 569.6 C473.9 570 475.1 569.8 480 570 C484.9 570.2 492.9 570.8 499.3 570.8 C505.7 570.8 512.2 570.1 518.6 570.2 C525 570.3 532.5 570.6 537.9 571.5 C543.2 572.4 547.1 574 550.7 575.3 C554.3 576.6 557.3 577.7 559.7 579.2 C562.1 580.7 563.8 581.9 564.9 584.3 C566 586.6 566.4 590.1 566.2 593.3 C566 596.5 564.9 600.4 563.6 603.6 C562.3 606.8 560.4 610 558.5 612.6 C556.6 615.2 554.4 617.5 552 619 C549.6 620.5 547.1 621.4 544.3 621.6 C541.5 621.8 538.5 620.9 535.3 620.3 C532.1 619.7 528.9 618.4 525 617.8 C521.1 617.2 516.5 616.7 512.2 616.5 C507.9 616.3 503.6 616.3 499.3 616.5 C495 616.7 490.3 616.9 486.4 617.8 C482.5 618.6 479.1 620.3 475.8 621.6 C472.5 622.9 470 623.7 466.8 625.4 C463.6 627.1 460.4 629.8 456.5 631.9 C452.6 634 447.9 636.7 443.6 638.3 C439.3 639.9 435 640.6 430.7 641.5 C426.4 642.4 422.4 643 417.9 643.4 C413.4 643.8 407.8 644.3 403.7 644.1 C399.6 643.9 396.4 643.6 393.4 642.2 C390.4 640.8 387.8 638.5 385.7 635.7 C383.6 632.9 382 629.7 380.6 625.4 C379.2 621.1 378.1 615.8 377.4 610 C376.6 604.2 376.2 597.2 376.1 590.8 C376 584.4 376.2 577.9 376.7 571.5 C377.2 565.1 378.4 557.1 379.3 552.2 C380.2 547.3 380.8 544.2 381.9 541.9 C383 539.5 384.2 538.8 385.7 538.1Z" clip-rule="evenodd"/></clipPath>
<g filter="url(#vout)"><path d="M379.3 491.7 C381.9 491.9 392.1 492.8 394.7 493 C394.2 495.4 392.5 503.3 391.5 507.2 C390.5 511.1 388.6 513.6 388.9 516.2 C389.2 518.8 391.5 520.9 393.4 522.9 C395.2 524.9 397.6 526.5 400 528.5 C402.4 530.5 403.8 532 407.7 534.6 C411.6 537.2 418 541.2 423.2 543.9 C428.4 546.6 433.5 548.9 438.6 550.9 C443.8 552.9 448.9 554.5 454.1 555.9 C459.3 557.3 465.3 558.6 469.6 559.4 C473.9 560.2 476.1 560.2 480 560.5 C483.9 560.8 487.5 561.1 492.9 561.2 C498.3 561.3 505.8 560.9 512.2 560.9 C518.6 560.9 526 560.7 531.4 561.2 C536.8 561.7 540 562.5 544.3 563.7 C548.6 564.9 553.8 567.1 557.2 568.2 C560.6 569.3 562.8 570.3 564.9 570.2 C567 570.1 568.5 569.5 570 567.6 C571.5 565.7 572.9 562.2 573.9 558.6 C574.9 555 575.2 551.1 575.8 545.7 C576.4 540.3 577.3 532.2 577.7 526.4 C578.1 520.6 578.3 513.6 578.4 511 C580.8 511 590.1 511 592.5 511 C592.2 513.6 591.1 520.6 590.6 526.4 C590.1 532.2 589.8 539.3 589.3 545.7 C588.8 552.1 588.2 558.6 587.4 565 C586.5 571.4 585.4 577.9 584.2 584.3 C583 590.7 581.6 598.2 580.3 603.6 C579 609 577.7 612.8 576.5 616.5 C575.3 620.2 574.1 622.8 573.2 626 C572.3 629.2 571.9 632.2 571.3 636 C570.7 639.8 569.8 643.3 569.4 648.6 C569 653.9 568.7 661.5 568.7 667.9 C568.7 674.3 569.2 681 569.4 687.2 C569.6 693.4 569.9 702.2 570 705.2 C567.3 705.2 556.7 705.2 554 705.2 C554.1 703.3 554.4 698.8 554.6 693.6 C554.8 688.5 555 680.7 555.2 674.3 C555.4 667.9 556 660.1 555.9 655 C555.8 649.9 555.7 646 554.6 643.4 C553.5 640.8 551.6 639.6 549.5 639.6 C547.4 639.6 544.3 641.5 541.7 643.4 C539.1 645.3 536.4 648.2 534 651.2 C531.6 654.2 529.5 657.5 527.6 661.4 C525.7 665.2 523.9 670 522.4 674.3 C520.9 678.6 519.7 682.9 518.6 687.2 C517.5 691.5 516.4 697.9 516 700 C513 700 501 700 498 700 C497.9 698.3 497.8 693.3 497.4 689.7 C497 686.1 496.6 681.8 495.4 678.2 C494.2 674.6 492.9 670.7 490.3 667.9 C487.7 665.1 483.5 663.1 480 661.4 C476.5 659.7 473.2 659 469.3 657.9 C465.4 656.8 461.9 655.6 456.5 655 C451.1 654.4 443.6 654.3 437.2 654.4 C430.8 654.5 423.3 655.1 417.9 655.7 C412.5 656.3 408.4 656.8 405 658.2 C401.6 659.6 399.4 661.3 397.3 664 C395.2 666.7 393.4 670.4 392.2 674.3 C391 678.2 390.8 681.8 390.2 687.2 C389.6 692.6 389.3 699.4 388.9 706.5 C388.5 713.6 387.9 725.8 387.7 729.6 C384.9 729.6 373.7 729.6 370.9 729.6 C371 726.8 371.4 720 371.6 712.9 C371.8 705.8 372.1 694.7 372.2 687.2 C372.3 679.7 372.4 673.3 372.2 667.9 C372 662.5 371.5 659.3 371 655 C370.5 650.7 369.8 647.6 369 642.2 C368.2 636.9 367.1 629.3 366.4 622.9 C365.6 616.5 364.9 610 364.5 603.6 C364.1 597.2 363.9 590.7 363.9 584.3 C363.9 577.9 364 571.4 364.5 565 C365 558.6 366 552.1 367.1 545.7 C368.2 539.3 369.5 532.8 370.9 526.4 C372.3 520 374 513 375.4 507.2 C376.8 501.4 378.6 494.3 379.3 491.7Z M385.7 538.1 C387.2 537.4 388.6 536.4 391 537.5 C393.4 538.6 395.9 542.1 400 544.7 C404.1 547.3 410.4 550.5 415.5 553.2 C420.6 555.9 427 559.1 430.9 560.9 C434.8 562.7 434.7 562.8 438.6 564 C442.5 565.2 448.9 567 454.1 567.9 C459.3 568.8 465.3 569.2 469.6 569.6 C473.9 570 475.1 569.8 480 570 C484.9 570.2 492.9 570.8 499.3 570.8 C505.7 570.8 512.2 570.1 518.6 570.2 C525 570.3 532.5 570.6 537.9 571.5 C543.2 572.4 547.1 574 550.7 575.3 C554.3 576.6 557.3 577.7 559.7 579.2 C562.1 580.7 563.8 581.9 564.9 584.3 C566 586.6 566.4 590.1 566.2 593.3 C566 596.5 564.9 600.4 563.6 603.6 C562.3 606.8 560.4 610 558.5 612.6 C556.6 615.2 554.4 617.5 552 619 C549.6 620.5 547.1 621.4 544.3 621.6 C541.5 621.8 538.5 620.9 535.3 620.3 C532.1 619.7 528.9 618.4 525 617.8 C521.1 617.2 516.5 616.7 512.2 616.5 C507.9 616.3 503.6 616.3 499.3 616.5 C495 616.7 490.3 616.9 486.4 617.8 C482.5 618.6 479.1 620.3 475.8 621.6 C472.5 622.9 470 623.7 466.8 625.4 C463.6 627.1 460.4 629.8 456.5 631.9 C452.6 634 447.9 636.7 443.6 638.3 C439.3 639.9 435 640.6 430.7 641.5 C426.4 642.4 422.4 643 417.9 643.4 C413.4 643.8 407.8 644.3 403.7 644.1 C399.6 643.9 396.4 643.6 393.4 642.2 C390.4 640.8 387.8 638.5 385.7 635.7 C383.6 632.9 382 629.7 380.6 625.4 C379.2 621.1 378.1 615.8 377.4 610 C376.6 604.2 376.2 597.2 376.1 590.8 C376 584.4 376.2 577.9 376.7 571.5 C377.2 565.1 378.4 557.1 379.3 552.2 C380.2 547.3 380.8 544.2 381.9 541.9 C383 539.5 384.2 538.8 385.7 538.1Z" fill="#68a9df" fill-rule="evenodd"/></g>
<g clip-path="url(#clipVB)"><g fill="none" stroke="#c6e2f6" stroke-width="3.2" stroke-linecap="round" opacity="0.9" filter="url(#blur1)">
<path d="M384 500 C378 520 372 545 370 570 C369 595 371 620 375 645 C377 665 378 690 377.5 722"/>
<path d="M396 528 C420 546 450 559 480 563.5 C510 565 540 564.5 562 572"/>
<path d="M583 520 C583 545 580 575 575 600 C571 615 566 625 563 630"/>
<path d="M561 650 L561.5 700"/>
<path d="M400 650 C430 647 450 646 470 642"/>
<path d="M487 665 C496 675 501 688 503 697"/>
<path d="M535 640 C528 650 524 665 522 690"/>
</g></g>
<ellipse cx="505.1" cy="636.3" rx="21" ry="14.6" fill="#fff" stroke="#333" stroke-width="1.1" stroke-dasharray="2.6 1.8"/>
<ellipse cx="387.3" cy="491.6" rx="7.2" ry="3.2" transform="rotate(8 387.3 491.6)" fill="#5d9fd9" stroke="#2f73bd" stroke-width="1.1"/><ellipse cx="387.3" cy="491.6" rx="4.5" ry="1.8" transform="rotate(8 387.3 491.6)" fill="#f2f8fd"/>
<ellipse cx="585.2" cy="510" rx="7.3" ry="3.6" transform="rotate(4 585.2 510)" fill="#5d9fd9" stroke="#2f73bd" stroke-width="1.1"/><ellipse cx="585.2" cy="510" rx="4.5" ry="2" transform="rotate(4 585.2 510)" fill="#f2f8fd"/>
<ellipse cx="379.3" cy="730.6" rx="8" ry="4.2" transform="rotate(0 379.3 730.6)" fill="#5d9fd9" stroke="#2f73bd" stroke-width="1.1"/><ellipse cx="379.3" cy="730.6" rx="5" ry="2.3" transform="rotate(0 379.3 730.6)" fill="#f2f8fd"/>
<ellipse cx="562.2" cy="705.6" rx="7.8" ry="5" transform="rotate(0 562.2 705.6)" fill="#5d9fd9" stroke="#2f73bd" stroke-width="1.1"/><ellipse cx="562.2" cy="705.6" rx="4.8" ry="2.8" transform="rotate(0 562.2 705.6)" fill="#f2f8fd"/>
<ellipse cx="507" cy="701.5" rx="8.6" ry="4.3" transform="rotate(0 507 701.5)" fill="#5d9fd9" stroke="#2f73bd" stroke-width="1.1"/><ellipse cx="507" cy="701.5" rx="5.3" ry="2.4" transform="rotate(0 507 701.5)" fill="#f2f8fd"/>
<path d="M420.5 550.5 C429 555 437 558.5 445 561" fill="none" stroke="#111" stroke-width="1.9"/><path d="M442 556.6 L449.8 561.8 L440.6 562.6 Z" fill="#111"/>
<path d="M524.5 566.5 C534 566.8 543 568.5 552 571.5" fill="none" stroke="#111" stroke-width="1.9"/><path d="M548.4 567.2 L556.5 572.5 L547 573.3 Z" fill="#111"/>
<clipPath id="clipLiver"><path d="M500 735.7 C506.7 734.9 510.5 734.9 517.9 734.6 C525.3 734.3 535.7 733.1 544.6 733.9 C553.5 734.7 563.4 736.3 571.4 739.3 C579.4 742.3 586.3 746.8 592.9 751.8 C599.5 756.8 605.1 762.8 610.7 769.6 C616.4 776.5 622 784.9 626.8 792.9 C631.6 800.9 636 809.9 639.3 817.9 C642.6 825.9 644.8 833.4 646.4 841.1 C648 848.8 649.1 857.5 649.1 864.3 C649.1 871.1 648.3 877 646.4 882.1 C644.5 887.2 641.1 891.6 637.5 894.6 C633.9 897.6 630.1 899.4 625 900 C619.9 900.6 613.1 899.7 607.1 898.2 C601.1 896.7 595.2 893.5 589.3 891.1 C583.3 888.7 577.3 886 571.4 883.9 C565.5 881.8 559.5 880.1 553.6 878.6 C547.7 877.1 541.7 876 535.7 875 C529.8 874 523.9 873 517.9 872.4 C511.9 871.8 508.2 872.1 500 871.6 C491.8 871.1 478.5 870.4 468.9 869.6 C459.2 868.8 451 867.4 442.1 866.6 C433.2 865.8 423.1 864.9 415.4 864.8 C407.7 864.7 401.7 865.6 395.7 866 C389.7 866.4 385.2 867.3 379.6 867 C374 866.7 366.9 865.9 361.8 864.3 C356.8 862.6 352 860.1 349.3 857.1 C346.6 854.1 345.9 850.6 345.7 846.4 C345.5 842.2 346.3 837.5 348.4 832.1 C350.5 826.8 353.6 820.8 358.2 814.3 C362.8 807.8 369.6 799.4 376.1 792.9 C382.7 786.4 389.5 780.7 397.5 775 C405.5 769.3 415.4 763.7 424.3 758.9 C433.2 754.1 442.2 749.7 451.1 746.4 C460 743.1 469.8 741.1 477.9 739.3 C486 737.5 493.3 736.5 500 735.7Z"/></clipPath>
<path d="M500 735.7 C506.7 734.9 510.5 734.9 517.9 734.6 C525.3 734.3 535.7 733.1 544.6 733.9 C553.5 734.7 563.4 736.3 571.4 739.3 C579.4 742.3 586.3 746.8 592.9 751.8 C599.5 756.8 605.1 762.8 610.7 769.6 C616.4 776.5 622 784.9 626.8 792.9 C631.6 800.9 636 809.9 639.3 817.9 C642.6 825.9 644.8 833.4 646.4 841.1 C648 848.8 649.1 857.5 649.1 864.3 C649.1 871.1 648.3 877 646.4 882.1 C644.5 887.2 641.1 891.6 637.5 894.6 C633.9 897.6 630.1 899.4 625 900 C619.9 900.6 613.1 899.7 607.1 898.2 C601.1 896.7 595.2 893.5 589.3 891.1 C583.3 888.7 577.3 886 571.4 883.9 C565.5 881.8 559.5 880.1 553.6 878.6 C547.7 877.1 541.7 876 535.7 875 C529.8 874 523.9 873 517.9 872.4 C511.9 871.8 508.2 872.1 500 871.6 C491.8 871.1 478.5 870.4 468.9 869.6 C459.2 868.8 451 867.4 442.1 866.6 C433.2 865.8 423.1 864.9 415.4 864.8 C407.7 864.7 401.7 865.6 395.7 866 C389.7 866.4 385.2 867.3 379.6 867 C374 866.7 366.9 865.9 361.8 864.3 C356.8 862.6 352 860.1 349.3 857.1 C346.6 854.1 345.9 850.6 345.7 846.4 C345.5 842.2 346.3 837.5 348.4 832.1 C350.5 826.8 353.6 820.8 358.2 814.3 C362.8 807.8 369.6 799.4 376.1 792.9 C382.7 786.4 389.5 780.7 397.5 775 C405.5 769.3 415.4 763.7 424.3 758.9 C433.2 754.1 442.2 749.7 451.1 746.4 C460 743.1 469.8 741.1 477.9 739.3 C486 737.5 493.3 736.5 500 735.7Z" fill="url(#gLiver)"/>
<g clip-path="url(#clipLiver)"><path d="M652 888 C650.7 889.5 646.4 895 644 897 C641.6 899 640.7 899 637.5 900 C634.3 901 630.1 903.3 625 903 C619.9 902.7 613.1 900.2 607.1 898.2 C601.1 896.2 595.2 893.5 589.3 891.1 C583.3 888.7 577.3 886 571.4 883.9 C565.5 881.8 559.5 880.1 553.6 878.6 C547.7 877.1 541.7 876 535.7 875 C529.8 874 523.9 873 517.9 872.4 C511.9 871.8 508.2 872.1 500 871.6 C491.8 871.1 478.5 870.4 468.9 869.6 C459.2 868.8 451 867.4 442.1 866.6 C433.2 865.8 423.1 864.9 415.4 864.8 C407.7 864.7 401.7 865.6 395.7 866 C389.7 866.4 385.2 867.1 379.6 867 C374 866.9 366.9 866.3 361.8 865.3 C356.8 864.3 352.6 862.5 349.3 861 C346 859.5 343.2 856.8 342 856" fill="none" stroke="#ee8552" stroke-width="24" stroke-linejoin="round" opacity="0.85" filter="url(#blur1)"/></g>
<path d="M500 735.7 C506.7 734.9 510.5 734.9 517.9 734.6 C525.3 734.3 535.7 733.1 544.6 733.9 C553.5 734.7 563.4 736.3 571.4 739.3 C579.4 742.3 586.3 746.8 592.9 751.8 C599.5 756.8 605.1 762.8 610.7 769.6 C616.4 776.5 622 784.9 626.8 792.9 C631.6 800.9 636 809.9 639.3 817.9 C642.6 825.9 644.8 833.4 646.4 841.1 C648 848.8 649.1 857.5 649.1 864.3 C649.1 871.1 648.3 877 646.4 882.1 C644.5 887.2 641.1 891.6 637.5 894.6 C633.9 897.6 630.1 899.4 625 900 C619.9 900.6 613.1 899.7 607.1 898.2 C601.1 896.7 595.2 893.5 589.3 891.1 C583.3 888.7 577.3 886 571.4 883.9 C565.5 881.8 559.5 880.1 553.6 878.6 C547.7 877.1 541.7 876 535.7 875 C529.8 874 523.9 873 517.9 872.4 C511.9 871.8 508.2 872.1 500 871.6 C491.8 871.1 478.5 870.4 468.9 869.6 C459.2 868.8 451 867.4 442.1 866.6 C433.2 865.8 423.1 864.9 415.4 864.8 C407.7 864.7 401.7 865.6 395.7 866 C389.7 866.4 385.2 867.3 379.6 867 C374 866.7 366.9 865.9 361.8 864.3 C356.8 862.6 352 860.1 349.3 857.1 C346.6 854.1 345.9 850.6 345.7 846.4 C345.5 842.2 346.3 837.5 348.4 832.1 C350.5 826.8 353.6 820.8 358.2 814.3 C362.8 807.8 369.6 799.4 376.1 792.9 C382.7 786.4 389.5 780.7 397.5 775 C405.5 769.3 415.4 763.7 424.3 758.9 C433.2 754.1 442.2 749.7 451.1 746.4 C460 743.1 469.8 741.1 477.9 739.3 C486 737.5 493.3 736.5 500 735.7Z" fill="none" stroke="#e8784e" stroke-width="0.8"/>
<g filter="url(#vout)"><path d="M512 928.6 C514 928.6 520.6 928.6 524 928.8 C527.4 929 530.1 929 532.4 929.6 C534.7 930.2 536.6 931 538 932.5 C539.4 934 540.4 936 541 938.3 C541.6 940.5 541.4 943.5 541.4 946 C541.4 948.5 541.2 952.3 541.2 953.6" fill="none" stroke="#68a9df" stroke-width="12.4" stroke-linecap="round"/></g>
<path d="M515 926.5 C528 926.5 536 929 538.5 938 L538.8 955" fill="none" stroke="#c6e2f6" stroke-width="2.6" opacity="0.75" filter="url(#blur1)"/>
<path d="M478 887 L478 950 A18.3 8 0 0 0 514.6 950 L514.6 887 Z" fill="url(#gDuo)"/>
<ellipse cx="496.3" cy="950" rx="18.3" ry="8" fill="#ffe21e"/>
<ellipse cx="496.6" cy="950" rx="11.6" ry="4.3" fill="#fff" stroke="#f0b020" stroke-width="0.8"/>
<ellipse cx="496.3" cy="887" rx="18.3" ry="8" fill="#ffe21e" stroke="#f3b51e" stroke-width="0.8"/>
<ellipse cx="496.3" cy="887" rx="11.6" ry="4.3" fill="#fff" stroke="#f0b020" stroke-width="0.8"/>
<g filter="url(#vout)" fill="none" stroke="#68a9df" stroke-linecap="round" stroke-linejoin="round">
<path d="M410.2 847.4 L409.2 846.6 L407.8 845.5 L406.3 844.3 L404.5 842.9 L402.8 841.4 L401 839.9 L399.4 838.5 L398.1 837.1 L396.9 835.8 L395.7 834.4 L394.6 832.9 L393.5 831.4 L392.4 829.9 L391.3 828.4 L390.3 826.8 L389.2 825.2 L388.1 823.7 L387 822.2 L385.9 820.7 L384.9 819.2 L383.9 817.8 L383.1 816.3 L382.3 815 L381.7 813.6 L381.2 812.2 L380.8 810.8 L380.5 809.3 L380.3 807.8 L380.2 806.4 L380.1 804.9 L380.1 803.4 L380.2 802 L380.4 800.7 L380.8 799.2 L381.2 797.6 L381.8 796.1 L382.4 794.6 L382.9 793.3 L383.3 792.2 L383.7 791.3 L382.7 790.9 L382.3 791.7 L381.7 792.7 L380.9 793.9 L380.1 795.3 L379.3 796.8 L378.5 798.3 L377.9 800 L377.4 801.6 L377.1 803.1 L376.8 804.7 L376.7 806.4 L376.6 808 L376.7 809.7 L376.8 811.5 L377.1 813.2 L377.5 815 L378 816.8 L378.8 818.5 L379.6 820.2 L380.5 821.9 L381.5 823.6 L382.5 825.2 L383.4 826.8 L384.4 828.4 L385.3 830 L386.3 831.6 L387.3 833.2 L388.4 834.9 L389.5 836.6 L390.7 838.2 L391.9 839.9 L393.3 841.5 L394.9 843.1 L396.6 844.8 L398.4 846.4 L400.3 848 L402 849.5 L403.6 850.7 L404.9 851.8 L405.8 852.6Z" stroke="none" fill="#68a9df"/>
<path d="M389.1 825.7 L389.5 824.5 L390 822.8 L390.7 820.7 L391.3 818.5 L392.1 816.2 L392.8 813.9 L393.4 811.7 L394.1 809.7 L394.6 808 L395.3 806.2 L395.9 804.5 L396.5 802.8 L397.1 801.2 L397.7 799.7 L398.2 798.2 L398.6 796.9 L399 795.6 L399.4 794.4 L399.7 793.3 L399.9 792.3 L400.2 791.4 L400.4 790.7 L400.5 790 L400.7 789.5 L399.7 789.1 L399.5 789.6 L399.2 790.2 L398.8 791 L398.4 791.8 L398 792.7 L397.5 793.7 L396.9 794.8 L396.4 795.9 L395.7 797.2 L395 798.5 L394.2 799.9 L393.4 801.5 L392.6 803.1 L391.7 804.7 L390.9 806.5 L390.1 808.3 L389.4 810.2 L388.5 812.4 L387.7 814.7 L386.9 817.1 L386.1 819.3 L385.5 821.3 L384.9 823 L384.5 824.3Z" stroke="none" fill="#68a9df"/>
<path d="M415.4 791.5 L415.2 791.9 L414.8 792.3 L414.4 792.9 L413.9 793.5 L413.4 794.2 L412.9 795 L412.3 795.8 L411.6 796.7 L410.9 797.7 L410.2 798.8 L409.4 800 L408.6 801.1 L407.8 802.3 L407 803.5 L406.1 804.5 L405.1 805.6 L404 806.6 L402.5 807.7 L400.8 808.9 L399.1 810.1 L397.5 811.2 L396 812.3 L394.7 813.2 L393.8 813.9 L394.2 814.7 L395.3 814.3 L396.7 813.8 L398.5 813.2 L400.4 812.4 L402.3 811.6 L404.3 810.6 L406.1 809.7 L407.7 808.6 L409 807.5 L410.3 806.4 L411.4 805.1 L412.4 803.9 L413.3 802.7 L414.2 801.6 L414.9 800.6 L415.6 799.7 L416.3 798.9 L416.9 798 L417.5 797.3 L418.1 796.6 L418.5 795.9 L418.9 795.4 L419.3 794.9 L419.6 794.5Z" stroke="none" fill="#68a9df"/>
<path d="M419.2 793.7 L419.1 792.8 L419 791.6 L418.8 790.1 L418.6 788.5 L418.3 786.7 L418 785 L417.6 783.3 L417.2 781.7 L416.7 780.2 L416 778.6 L415.4 777.1 L414.6 775.6 L413.9 774.2 L413.3 773 L412.7 772 L412.3 771.2 L411.3 771.6 L411.5 772.4 L411.7 773.6 L412 774.9 L412.4 776.4 L412.7 778 L413.1 779.6 L413.4 781.1 L413.6 782.5 L413.8 784 L414 785.6 L414.1 787.3 L414.3 789 L414.4 790.6 L414.5 792.1 L414.7 793.3 L414.8 794.3Z" stroke="none" fill="#68a9df"/>
<path d="M494.7 779.9 L493.7 780.3 L492.5 780.9 L491 781.6 L489.4 782.4 L487.6 783.2 L485.8 783.9 L484.1 784.7 L482.4 785.3 L480.8 785.8 L479.2 786.3 L477.5 786.8 L475.8 787.2 L474.1 787.7 L472.3 788.1 L470.4 788.5 L468.5 788.9 L466.4 789.4 L464.2 789.8 L461.8 790.2 L459.4 790.6 L457.1 791 L454.8 791.4 L452.7 791.7 L450.8 792 L449.2 792.1 L447.7 792.3 L446.4 792.4 L445.1 792.4 L443.9 792.4 L442.7 792.4 L441.4 792.4 L440 792.5 L438.5 792.5 L437.1 792.6 L435.5 792.6 L434 792.7 L432.5 792.7 L431 792.7 L429.5 792.7 L428 792.7 L426.4 792.7 L424.7 792.7 L423 792.6 L421.3 792.6 L419.6 792.5 L418.2 792.5 L417 792.4 L416 792.4 L416 793.4 L416.9 793.5 L418.1 793.7 L419.5 793.9 L421.1 794.1 L422.8 794.3 L424.6 794.5 L426.3 794.7 L427.8 794.9 L429.4 795 L430.9 795.1 L432.4 795.2 L434 795.3 L435.5 795.3 L437 795.4 L438.5 795.5 L440 795.5 L441.4 795.6 L442.6 795.6 L443.9 795.7 L445.1 795.8 L446.4 795.8 L447.9 795.8 L449.4 795.7 L451.2 795.6 L453.2 795.5 L455.3 795.3 L457.6 795 L460.1 794.7 L462.5 794.4 L464.9 794 L467.2 793.6 L469.3 793.3 L471.3 792.9 L473.3 792.5 L475.1 792.1 L476.9 791.7 L478.7 791.3 L480.5 790.8 L482.2 790.3 L484 789.7 L485.8 789.1 L487.7 788.4 L489.5 787.6 L491.3 786.8 L493 786 L494.5 785.3 L495.7 784.7 L496.7 784.3Z" stroke="none" fill="#68a9df"/>
<path d="M473.5 808.5 L472.4 808.8 L471.1 809.1 L469.4 809.5 L467.5 810 L465.5 810.5 L463.4 811.2 L461.4 811.8 L459.4 812.6 L457.3 813.5 L455.1 814.6 L452.9 815.7 L450.6 817 L448.5 818.2 L446.6 819.3 L445 820.2 L443.8 820.9 L444.2 821.9 L445.5 821.4 L447.3 820.8 L449.4 820 L451.6 819.2 L454 818.3 L456.4 817.5 L458.6 816.7 L460.6 816 L462.5 815.4 L464.5 814.9 L466.5 814.4 L468.5 813.9 L470.3 813.5 L472 813.1 L473.4 812.8 L474.5 812.5Z" stroke="none" fill="#68a9df"/>
<path d="M488.3 757.8 L487.7 758.9 L486.9 760.3 L486 762.1 L484.9 764 L483.8 766.1 L482.8 768.3 L481.8 770.4 L481 772.4 L480.4 774.2 L479.8 776 L479.3 777.8 L478.8 779.6 L478.4 781.4 L478.1 783.2 L477.7 785.2 L477.4 787.2 L477.2 789.3 L477 791.5 L476.8 793.7 L476.7 796 L476.6 798.3 L476.5 800.6 L476.3 802.9 L476.2 805.2 L476 807.6 L475.9 810.2 L475.8 812.7 L475.6 815.3 L475.5 817.8 L475.3 820.3 L475.1 822.6 L474.9 824.8 L474.6 826.9 L474.2 829.1 L473.8 831.2 L473.4 833.2 L472.9 835 L472.6 836.7 L472.2 838.1 L472 839.2 L473 839.4 L473.3 838.4 L473.8 837 L474.3 835.4 L474.9 833.6 L475.5 831.6 L476.1 829.5 L476.7 827.3 L477.1 825.2 L477.6 823 L477.9 820.6 L478.3 818.1 L478.6 815.6 L478.9 813 L479.2 810.4 L479.5 808 L479.8 805.6 L480.1 803.2 L480.3 800.9 L480.5 798.5 L480.7 796.3 L480.9 794 L481.2 791.9 L481.4 789.8 L481.8 787.8 L482.1 785.9 L482.5 784.1 L482.9 782.4 L483.3 780.7 L483.7 779 L484.2 777.4 L484.8 775.7 L485.4 774 L486.1 772.3 L487.1 770.3 L488.1 768.3 L489.1 766.3 L490.2 764.4 L491.1 762.6 L491.9 761.1 L492.5 760Z" stroke="none" fill="#68a9df"/>
<path d="M549.8 780.4 L550.5 779.8 L551.4 779 L552.4 778 L553.6 777 L554.8 775.9 L556 774.9 L557.1 774.1 L558.2 773.5 L559.3 773 L560.5 772.5 L561.7 772.1 L563 771.7 L564.3 771.4 L565.6 771.2 L566.8 771.1 L567.9 771 L569 771 L570 771.1 L570.9 771.2 L571.8 771.3 L572.7 771.6 L573.6 771.9 L574.6 772.4 L575.6 773 L576.8 773.9 L578.1 775 L579.4 776.3 L580.8 777.7 L582.3 779.1 L583.7 780.6 L585.1 782 L586.5 783.2 L587.8 784.3 L589 785.3 L590.3 786.2 L591.5 787.1 L592.6 787.9 L593.8 788.7 L594.8 789.4 L595.9 790.1 L596.9 790.7 L597.9 791.2 L598.9 791.7 L599.8 792.1 L600.6 792.5 L601.4 792.9 L602 793.1 L602.5 793.3 L602.9 792.5 L602.5 792.2 L601.9 791.8 L601.2 791.4 L600.4 791 L599.6 790.4 L598.7 789.8 L597.8 789.2 L596.9 788.5 L596 787.8 L595 787 L594 786.1 L593 785.2 L591.9 784.2 L590.8 783.2 L589.7 782.1 L588.5 781 L587.3 779.8 L586.1 778.4 L584.8 776.8 L583.5 775.3 L582.1 773.7 L580.7 772.2 L579.3 770.9 L578 769.8 L576.6 768.9 L575.4 768.2 L574.1 767.6 L572.9 767.2 L571.7 766.9 L570.4 766.7 L569.2 766.6 L567.9 766.6 L566.5 766.6 L565 766.7 L563.5 766.9 L562 767.2 L560.4 767.6 L558.9 768.1 L557.5 768.7 L556 769.3 L554.6 770.1 L553.1 771.1 L551.7 772.2 L550.4 773.4 L549.2 774.5 L548.1 775.4 L547.3 776.2 L546.6 776.8Z" stroke="none" fill="#68a9df"/>
<path d="M512.3 795.6 L513.3 796 L514.7 796.5 L516.2 797.1 L517.9 797.8 L519.8 798.5 L521.8 799.3 L523.8 800.1 L525.7 800.9 L527.7 801.7 L529.8 802.6 L532 803.5 L534.3 804.5 L536.7 805.4 L539 806.4 L541.4 807.3 L543.7 808 L546.1 808.7 L548.4 809.3 L550.7 809.8 L553 810.3 L555.2 810.8 L557.4 811.2 L559.6 811.7 L561.8 812.3 L564 813 L566.3 813.6 L568.6 814.3 L570.9 815 L573.1 815.8 L575.3 816.6 L577.4 817.4 L579.4 818.2 L581.3 819.2 L583.1 820.2 L584.9 821.2 L586.7 822.3 L588.5 823.5 L590.2 824.6 L591.8 825.7 L593.5 826.7 L594.9 827.7 L596.3 828.7 L597.7 829.7 L599.1 830.7 L600.4 831.7 L601.9 832.6 L603.4 833.3 L605 833.8 L606.8 834 L608.4 833.7 L609.9 833.2 L611.2 832.7 L612.4 832.2 L613.6 831.8 L614.6 831.7 L615.7 831.8 L616.9 832.3 L618.4 833.1 L619.9 834 L621.4 835.2 L623.1 836.4 L624.7 837.7 L626.4 839 L628 840.1 L629.7 841.3 L631.5 842.5 L633.4 843.7 L635.2 844.9 L636.9 846.1 L638.5 847.1 L639.8 848 L640.8 848.6 L641.4 847.8 L640.5 847.1 L639.2 846.1 L637.7 845 L636.1 843.7 L634.3 842.4 L632.5 841 L630.8 839.7 L629.2 838.5 L627.7 837.3 L626.2 835.9 L624.6 834.6 L623 833.2 L621.4 831.9 L619.8 830.7 L618.2 829.7 L616.5 829 L614.7 828.6 L613 828.7 L611.5 829.1 L610.1 829.6 L608.8 830.1 L607.7 830.4 L606.7 830.5 L605.8 830.4 L604.8 830 L603.7 829.4 L602.6 828.6 L601.4 827.7 L600.1 826.7 L598.8 825.5 L597.3 824.4 L595.7 823.3 L594.2 822.2 L592.6 821.1 L590.9 819.9 L589.2 818.7 L587.4 817.4 L585.5 816.2 L583.5 815 L581.4 814 L579.3 813 L577.1 812 L574.8 811.1 L572.5 810.3 L570.2 809.5 L567.8 808.7 L565.5 808 L563.2 807.3 L560.9 806.6 L558.6 806 L556.4 805.5 L554.1 805 L551.9 804.5 L549.7 804 L547.6 803.4 L545.5 802.8 L543.3 802 L541.1 801.1 L538.8 800.2 L536.5 799.2 L534.3 798.3 L532.1 797.3 L529.9 796.4 L527.9 795.5 L525.9 794.7 L523.9 793.9 L521.9 793.2 L520 792.4 L518.3 791.7 L516.8 791.1 L515.5 790.6 L514.5 790.2Z" stroke="none" fill="#68a9df"/>
<path d="M603.4 831.7 L603.2 832.8 L602.8 834.2 L602.4 836 L602 838 L601.7 840.1 L601.5 842.3 L601.4 844.6 L601.7 846.7 L602.3 848.8 L603.1 850.8 L604.1 852.7 L605.2 854.5 L606.4 856.3 L607.5 858 L608.5 859.7 L609.5 861.3 L610.3 863 L611.2 864.7 L612.1 866.5 L613 868.2 L613.8 869.8 L614.5 871.3 L615.2 872.5 L615.6 873.4 L616.6 873 L616.2 872 L615.8 870.7 L615.3 869.2 L614.7 867.5 L614 865.7 L613.4 863.8 L612.7 861.9 L611.9 860.1 L611.1 858.3 L610.2 856.5 L609.2 854.6 L608.2 852.8 L607.3 851 L606.5 849.3 L605.9 847.6 L605.5 846.1 L605.4 844.4 L605.5 842.6 L605.7 840.7 L606.1 838.7 L606.5 836.9 L606.9 835.1 L607.2 833.6 L607.4 832.5Z" stroke="none" fill="#68a9df"/>
<path d="M551.7 848.1 L552.4 847.3 L553.3 846.4 L554.3 845.2 L555.4 844 L556.6 842.8 L557.8 841.5 L559.1 840.4 L560.3 839.3 L561.6 838.3 L563.1 837.3 L564.6 836.2 L566.1 835.2 L567.7 834.3 L569.2 833.4 L570.6 832.7 L571.9 832.2 L573.2 831.8 L574.4 831.5 L575.7 831.4 L576.9 831.3 L578.1 831.3 L579.4 831.4 L580.6 831.5 L581.9 831.6 L583.1 831.8 L584.3 832.1 L585.6 832.5 L586.9 832.9 L588.1 833.4 L589.2 833.8 L590.2 834.1 L590.9 834.4 L591.3 833.4 L590.6 833.1 L589.8 832.6 L588.8 832 L587.6 831.4 L586.4 830.7 L585 830.1 L583.7 829.6 L582.3 829.2 L581.1 828.9 L579.8 828.6 L578.4 828.3 L577 828.2 L575.6 828.1 L574.1 828.1 L572.5 828.3 L570.9 828.6 L569.2 829.2 L567.5 829.8 L565.7 830.7 L564 831.6 L562.2 832.6 L560.6 833.6 L559 834.6 L557.5 835.7 L556 836.8 L554.6 838.1 L553.2 839.4 L551.9 840.8 L550.8 842 L549.7 843.2 L548.9 844.1 L548.3 844.7Z" stroke="none" fill="#68a9df"/>
<path d="M542.9 834.3 L542.3 833.6 L541.6 832.7 L540.7 831.6 L539.7 830.3 L538.6 829 L537.6 827.7 L536.5 826.5 L535.5 825.4 L534.5 824.3 L533.4 823.4 L532.4 822.6 L531.5 821.8 L530.6 821 L529.8 820.3 L529 819.5 L528.4 818.7 L527.8 817.7 L527.2 816.5 L526.7 815.3 L526.2 813.9 L525.8 812.5 L525.3 811.2 L524.9 809.8 L524.4 808.5 L523.9 807.3 L523.4 806 L522.9 804.8 L522.4 803.5 L522 802.4 L521.6 801.4 L521.2 800.5 L521 799.9 L520 800.1 L520.2 800.8 L520.3 801.7 L520.6 802.8 L520.8 804 L521.1 805.3 L521.4 806.6 L521.7 808 L522 809.3 L522.3 810.5 L522.6 811.9 L522.9 813.3 L523.2 814.8 L523.6 816.3 L524 817.7 L524.6 819.2 L525.2 820.5 L526 821.8 L526.9 822.9 L527.8 823.9 L528.8 824.8 L529.7 825.7 L530.6 826.5 L531.5 827.3 L532.3 828.2 L533.2 829.3 L534.2 830.5 L535.2 831.8 L536.2 833.1 L537.2 834.3 L538 835.4 L538.8 836.4 L539.3 837.1Z" stroke="none" fill="#68a9df"/>
<path d="M419 851.8 C422.9 852.5 433.8 855.3 442.1 856.3 C450.4 857.3 459.4 857.4 469 858 C478.6 858.6 487.3 859 500 859.8 C512.7 860.5 537.5 862 545 862.5" stroke-width="9"/>
<path d="M545.3 806 C545.3 810 545.3 820.7 545.3 830 C545.3 839.3 545.3 852.7 545.3 862 C545.3 871.3 545.2 882 545.2 886" stroke-width="12"/>
<path d="M545.6 880 C545.6 882 546 889 545.6 892 C545.2 895 544.4 896.7 543 898 C541.6 899.3 539.2 899.7 537 900 C534.8 900.3 536.2 900 530 900 C523.8 900 508.7 900 500 900 C491.3 900 483 900 478 900.3 C473 900.5 472.2 900.6 470 901.5 C467.8 902.4 466 903.9 464.8 905.5 C463.6 907.1 463.3 908.9 463 911 C462.7 913.1 462.8 915.9 463.2 918 C463.6 920.1 464.3 922.3 465.6 923.8 C466.9 925.3 469 926.5 471 927.2 C473 927.9 476.5 927.7 477.6 927.8" stroke-width="9.6" stroke-linecap="butt"/>
<path d="M498.6 714 C498.8 713.6 498.4 712.2 500 711.6 C501.6 711 505.3 710.6 508 710.6 C510.7 710.6 514.5 711 516 711.6 C517.5 712.2 517.1 713.6 517.3 714 C517.2 718.8 517.4 732.1 517 742.9 C516.6 753.7 516.2 766.7 515.2 778.6 C514.2 790.5 511.9 802.4 510.7 814.3 C509.5 826.2 508.5 842 508 850 C507.5 858 507.7 860 507.6 862 C504.5 862 492.1 862 489 862 C489.1 860 489.3 860.9 489.5 850 C489.7 839.1 489.7 810.6 490.4 796.4 C491.1 782.2 492.3 774.7 493.5 765 C494.7 755.3 496.6 746.5 497.5 738 C498.4 729.5 498.4 718 498.6 714Z" fill="#68a9df" stroke="none"/>
<path d="M551.5 812 L551.5 810.7 L551.5 808.9 L551.5 806.7 L551.5 804.3 L551.4 801.8 L551.3 799.2 L551.2 796.8 L551.1 794.6 L550.9 792.7 L550.6 790.8 L550.4 789 L550.1 787.3 L549.7 785.6 L549.4 784 L549 782.4 L548.5 780.8 L548.1 779.3 L547.6 777.8 L547 776.4 L546.4 775 L545.8 773.7 L545.2 772.5 L544.6 771.3 L544 770.2 L543.4 769.1 L542.8 768.1 L542.2 767.1 L541.6 766.1 L540.9 765.2 L540.2 764.2 L539.5 763.3 L538.6 762.3 L537.7 761.2 L536.7 760.1 L535.6 759 L534.5 757.9 L533.4 756.9 L532.3 755.8 L531.2 754.9 L530.2 754 L529.2 753.1 L528.1 752.3 L527 751.4 L526 750.7 L525 750 L524.1 749.4 L523.4 748.9 L522.9 748.5 L521.7 749.7 L522.2 750.2 L522.7 750.9 L523.3 751.8 L524 752.7 L524.8 753.7 L525.5 754.7 L526.3 755.8 L527 756.8 L527.7 757.9 L528.5 759.1 L529.2 760.3 L530 761.6 L530.8 762.8 L531.5 764.1 L532.2 765.2 L532.8 766.3 L533.3 767.3 L533.8 768.3 L534.2 769.2 L534.6 770 L534.9 770.9 L535.3 771.8 L535.6 772.7 L536 773.8 L536.3 774.9 L536.7 776 L537.1 777.2 L537.4 778.3 L537.7 779.5 L538 780.7 L538.2 781.9 L538.5 783.2 L538.7 784.5 L538.8 785.9 L539 787.3 L539.2 788.8 L539.3 790.4 L539.4 792 L539.5 793.6 L539.5 795.4 L539.6 797.3 L539.6 799.5 L539.6 801.9 L539.6 804.3 L539.5 806.7 L539.5 808.8 L539.5 810.7 L539.5 812Z" fill="#68a9df" stroke="none"/>
<path d="M392.5 881 C393.2 878.8 395 872.2 396.5 868 C398 863.8 399.8 859.3 401.5 856 C403.2 852.7 405 851.1 406.7 848 C408.4 844.9 409.6 841.6 411.6 837.3 C413.7 833 416.4 826.8 419 822 C421.6 817.2 424.3 813.1 427 808.3 C429.7 803.5 432.5 797.8 435.4 793 C438.3 788.2 441.6 783.4 444.4 779.3 C447.2 775.2 449.6 771.7 452 768.5 C454.4 765.3 456.3 762.8 459 760 C461.7 757.2 464.5 754.2 468 751.5 C471.5 748.8 476.3 746.1 480 744 C483.7 741.9 486.8 740.4 490 739 C493.2 737.6 497.5 736.1 499 735.5 C499.5 737.6 501.5 745.9 502 748 C500.3 748.7 495 750.5 492 752 C489 753.5 486.7 755 484 757 C481.3 759 478.7 761.5 476 764 C473.3 766.5 470.4 769.5 468 772 C465.6 774.5 464.4 775.8 461.8 779.3 C459.2 782.8 455.7 788.2 452.6 793 C449.6 797.8 446.1 803.5 443.5 808.3 C440.9 813.1 439.2 817.2 437 822 C434.8 826.8 432.3 833 430.5 837.3 C428.7 841.6 427.9 844.4 426 848 C424.1 851.6 421.2 855 419 859 C416.8 863 414.8 867.5 413 872 C411.2 876.5 409.2 883.7 408.5 886 C405.8 885.2 395.2 881.8 392.5 881Z" fill="#68a9df" stroke="none"/>
</g>
<g fill="none" stroke="#c6e2f6" stroke-width="3.4" stroke-linecap="round" opacity="0.9" filter="url(#blur1)">
<path d="M503 720 C503 750 500 790 497 845"/>
<path d="M399 874 C408 850 427 814 446 787 C460 767 478 751 494 742"/>
<path d="M425 850.5 C450 855 480 857 538 859.5"/>
<path d="M543 795 L543 890"/>
</g>
<path d="M540 898 L478 898.4 C468 899 462.5 904 461.8 912" fill="none" stroke="#c6e2f6" stroke-width="2.2" opacity="0.75" filter="url(#blur1)"/>
<ellipse cx="400.2" cy="884" rx="7.6" ry="5" transform="rotate(-18 400.2 884)" fill="#5d9fd9" stroke="#2f73bd" stroke-width="1.1"/><ellipse cx="400.2" cy="884" rx="4.7" ry="2.8" transform="rotate(-18 400.2 884)" fill="#f2f8fd"/>
<path d="M389.5 918 C391 907 393.5 899 396.3 893.5" fill="none" stroke="#111" stroke-width="2"/><path d="M397.8 889 L399.2 897.4 L392.8 895 Z" fill="#111"/>
</g>
<g id="figC">
<clipPath id="clipC"><path d="M447.3 1152.6 C443.2 1152.8 437.8 1153.8 433.5 1155 C429.2 1156.2 425.4 1157.5 421.4 1159.9 C417.4 1162.3 412.7 1165.9 409.3 1169.5 C405.9 1173.1 403.3 1177.2 400.9 1181.6 C398.5 1186 396.2 1191.1 394.9 1196.1 C393.6 1201.1 393.3 1207.5 393 1211.8 C392.7 1216.1 392.8 1218.5 393.3 1222 C393.8 1225.5 394.6 1228.2 396.1 1233.1 C397.6 1238 400.1 1245.6 402.1 1251.2 C404.1 1256.8 406.5 1262.5 408.1 1266.9 C409.7 1271.3 410.6 1274 411.8 1277.8 C413 1281.6 413.8 1285.9 415.4 1289.9 C417 1293.9 419 1298.2 421.4 1302 C423.8 1305.8 426.5 1309.4 429.9 1312.8 C433.3 1316.2 437.4 1319.7 442 1322.5 C446.6 1325.3 452.1 1328.2 457.7 1329.7 C463.3 1331.2 470.9 1331.9 475.8 1331.5 C480.7 1331.1 483.7 1328.9 487.2 1327.3 C490.7 1325.7 493.2 1323.5 497 1322 C500.8 1320.5 505.4 1319.5 510 1318 C514.6 1316.5 520.7 1314.5 524.7 1312.8 C528.8 1311.1 531.7 1310.2 534.3 1308 C536.9 1305.8 538.9 1302.5 540.4 1299.5 C541.9 1296.5 541.9 1294.8 543.5 1289.9 C545.1 1285 547.9 1276.3 550 1270 C552.1 1263.7 554.8 1257 556 1252 C557.2 1247 557.1 1243.5 557.5 1240 C557.9 1236.5 557.8 1234.2 558.5 1231 C559.2 1227.8 560.5 1223.8 561.5 1221 C562.5 1218.2 563.6 1217.1 564.5 1214.2 C565.4 1211.3 566.5 1207.4 567 1203.4 C567.5 1199.4 567.8 1194.5 567.6 1190.1 C567.4 1185.7 566.8 1181.2 565.7 1176.8 C564.6 1172.4 563.1 1167.7 560.9 1163.5 C558.7 1159.3 555.9 1155 552.5 1151.4 C549.1 1147.8 544.4 1143.9 540.4 1141.8 C536.4 1139.7 532.3 1139 528.3 1138.7 C524.3 1138.4 520.2 1138.9 516.2 1140 C512.2 1141.1 507.6 1144 504.2 1145.4 C500.8 1146.8 497.9 1148.5 496 1148.6 C494.1 1148.7 493.3 1146.4 492.8 1146 C492.8 1147.7 492.8 1154.3 492.8 1156 C489 1156.2 475.8 1157.3 470 1157 C464.2 1156.7 461.8 1154.7 458 1154 C454.2 1153.3 451.4 1152.4 447.3 1152.6Z"/></clipPath>
<path d="M447.3 1126.3 L447.3 1158 L492.8 1160 L492.8 1126.3 Z" fill="url(#gTubeC)"/>
<path d="M447.3 1152.6 C443.2 1152.8 437.8 1153.8 433.5 1155 C429.2 1156.2 425.4 1157.5 421.4 1159.9 C417.4 1162.3 412.7 1165.9 409.3 1169.5 C405.9 1173.1 403.3 1177.2 400.9 1181.6 C398.5 1186 396.2 1191.1 394.9 1196.1 C393.6 1201.1 393.3 1207.5 393 1211.8 C392.7 1216.1 392.8 1218.5 393.3 1222 C393.8 1225.5 394.6 1228.2 396.1 1233.1 C397.6 1238 400.1 1245.6 402.1 1251.2 C404.1 1256.8 406.5 1262.5 408.1 1266.9 C409.7 1271.3 410.6 1274 411.8 1277.8 C413 1281.6 413.8 1285.9 415.4 1289.9 C417 1293.9 419 1298.2 421.4 1302 C423.8 1305.8 426.5 1309.4 429.9 1312.8 C433.3 1316.2 437.4 1319.7 442 1322.5 C446.6 1325.3 452.1 1328.2 457.7 1329.7 C463.3 1331.2 470.9 1331.9 475.8 1331.5 C480.7 1331.1 483.7 1328.9 487.2 1327.3 C490.7 1325.7 493.2 1323.5 497 1322 C500.8 1320.5 505.4 1319.5 510 1318 C514.6 1316.5 520.7 1314.5 524.7 1312.8 C528.8 1311.1 531.7 1310.2 534.3 1308 C536.9 1305.8 538.9 1302.5 540.4 1299.5 C541.9 1296.5 541.9 1294.8 543.5 1289.9 C545.1 1285 547.9 1276.3 550 1270 C552.1 1263.7 554.8 1257 556 1252 C557.2 1247 557.1 1243.5 557.5 1240 C557.9 1236.5 557.8 1234.2 558.5 1231 C559.2 1227.8 560.5 1223.8 561.5 1221 C562.5 1218.2 563.6 1217.1 564.5 1214.2 C565.4 1211.3 566.5 1207.4 567 1203.4 C567.5 1199.4 567.8 1194.5 567.6 1190.1 C567.4 1185.7 566.8 1181.2 565.7 1176.8 C564.6 1172.4 563.1 1167.7 560.9 1163.5 C558.7 1159.3 555.9 1155 552.5 1151.4 C549.1 1147.8 544.4 1143.9 540.4 1141.8 C536.4 1139.7 532.3 1139 528.3 1138.7 C524.3 1138.4 520.2 1138.9 516.2 1140 C512.2 1141.1 507.6 1144 504.2 1145.4 C500.8 1146.8 497.9 1148.5 496 1148.6 C494.1 1148.7 493.3 1146.4 492.8 1146 C492.8 1147.7 492.8 1154.3 492.8 1156 C489 1156.2 475.8 1157.3 470 1157 C464.2 1156.7 461.8 1154.7 458 1154 C454.2 1153.3 451.4 1152.4 447.3 1152.6Z" fill="url(#gBodyC)" stroke="#e9295d" stroke-width="0.8"/>
<path d="M447.3 1152.6 C443.2 1152.8 437.8 1153.8 433.5 1155 C429.2 1156.2 425.4 1157.5 421.4 1159.9 C417.4 1162.3 412.7 1165.9 409.3 1169.5 C405.9 1173.1 403.3 1177.2 400.9 1181.6 C398.5 1186 396.2 1191.1 394.9 1196.1 C393.6 1201.1 393.3 1207.5 393 1211.8 C392.7 1216.1 392.8 1218.5 393.3 1222 C393.8 1225.5 394.6 1228.2 396.1 1233.1 C397.6 1238 400.1 1245.6 402.1 1251.2 C404.1 1256.8 406.5 1262.5 408.1 1266.9 C409.7 1271.3 410.6 1274 411.8 1277.8 C413 1281.6 413.8 1285.9 415.4 1289.9 C417 1293.9 419 1298.2 421.4 1302 C423.8 1305.8 426.5 1309.4 429.9 1312.8 C433.3 1316.2 437.4 1319.7 442 1322.5 C446.6 1325.3 452.1 1328.2 457.7 1329.7 C463.3 1331.2 470.9 1331.9 475.8 1331.5 C480.7 1331.1 483.7 1328.9 487.2 1327.3 C490.7 1325.7 493.2 1323.5 497 1322 C500.8 1320.5 505.4 1319.5 510 1318 C514.6 1316.5 520.7 1314.5 524.7 1312.8 C528.8 1311.1 531.7 1310.2 534.3 1308 C536.9 1305.8 538.9 1302.5 540.4 1299.5 C541.9 1296.5 541.9 1294.8 543.5 1289.9 C545.1 1285 547.9 1276.3 550 1270 C552.1 1263.7 554.8 1257 556 1252 C557.2 1247 557.1 1243.5 557.5 1240 C557.9 1236.5 557.8 1234.2 558.5 1231 C559.2 1227.8 560.5 1223.8 561.5 1221 C562.5 1218.2 563.6 1217.1 564.5 1214.2 C565.4 1211.3 566.5 1207.4 567 1203.4 C567.5 1199.4 567.8 1194.5 567.6 1190.1 C567.4 1185.7 566.8 1181.2 565.7 1176.8 C564.6 1172.4 563.1 1167.7 560.9 1163.5 C558.7 1159.3 555.9 1155 552.5 1151.4 C549.1 1147.8 544.4 1143.9 540.4 1141.8 C536.4 1139.7 532.3 1139 528.3 1138.7 C524.3 1138.4 520.2 1138.9 516.2 1140 C512.2 1141.1 507.6 1144 504.2 1145.4 C500.8 1146.8 497.9 1148.5 496 1148.6 C494.1 1148.7 493.3 1146.4 492.8 1146 C492.8 1147.7 492.8 1154.3 492.8 1156 C489 1156.2 475.8 1157.3 470 1157 C464.2 1156.7 461.8 1154.7 458 1154 C454.2 1153.3 451.4 1152.4 447.3 1152.6Z" fill="url(#gHiC)"/>
<path d="M447.3 1152.6 C443.2 1152.8 437.8 1153.8 433.5 1155 C429.2 1156.2 425.4 1157.5 421.4 1159.9 C417.4 1162.3 412.7 1165.9 409.3 1169.5 C405.9 1173.1 403.3 1177.2 400.9 1181.6 C398.5 1186 396.2 1191.1 394.9 1196.1 C393.6 1201.1 393.3 1207.5 393 1211.8 C392.7 1216.1 392.8 1218.5 393.3 1222 C393.8 1225.5 394.6 1228.2 396.1 1233.1 C397.6 1238 400.1 1245.6 402.1 1251.2 C404.1 1256.8 406.5 1262.5 408.1 1266.9 C409.7 1271.3 410.6 1274 411.8 1277.8 C413 1281.6 413.8 1285.9 415.4 1289.9 C417 1293.9 419 1298.2 421.4 1302 C423.8 1305.8 426.5 1309.4 429.9 1312.8 C433.3 1316.2 437.4 1319.7 442 1322.5 C446.6 1325.3 452.1 1328.2 457.7 1329.7 C463.3 1331.2 470.9 1331.9 475.8 1331.5 C480.7 1331.1 483.7 1328.9 487.2 1327.3 C490.7 1325.7 493.2 1323.5 497 1322 C500.8 1320.5 505.4 1319.5 510 1318 C514.6 1316.5 520.7 1314.5 524.7 1312.8 C528.8 1311.1 531.7 1310.2 534.3 1308 C536.9 1305.8 538.9 1302.5 540.4 1299.5 C541.9 1296.5 541.9 1294.8 543.5 1289.9 C545.1 1285 547.9 1276.3 550 1270 C552.1 1263.7 554.8 1257 556 1252 C557.2 1247 557.1 1243.5 557.5 1240 C557.9 1236.5 557.8 1234.2 558.5 1231 C559.2 1227.8 560.5 1223.8 561.5 1221 C562.5 1218.2 563.6 1217.1 564.5 1214.2 C565.4 1211.3 566.5 1207.4 567 1203.4 C567.5 1199.4 567.8 1194.5 567.6 1190.1 C567.4 1185.7 566.8 1181.2 565.7 1176.8 C564.6 1172.4 563.1 1167.7 560.9 1163.5 C558.7 1159.3 555.9 1155 552.5 1151.4 C549.1 1147.8 544.4 1143.9 540.4 1141.8 C536.4 1139.7 532.3 1139 528.3 1138.7 C524.3 1138.4 520.2 1138.9 516.2 1140 C512.2 1141.1 507.6 1144 504.2 1145.4 C500.8 1146.8 497.9 1148.5 496 1148.6 C494.1 1148.7 493.3 1146.4 492.8 1146 C492.8 1147.7 492.8 1154.3 492.8 1156 C489 1156.2 475.8 1157.3 470 1157 C464.2 1156.7 461.8 1154.7 458 1154 C454.2 1153.3 451.4 1152.4 447.3 1152.6Z" fill="url(#gRtC)"/>
<path d="M447.3 1152.6 C443.2 1152.8 437.8 1153.8 433.5 1155 C429.2 1156.2 425.4 1157.5 421.4 1159.9 C417.4 1162.3 412.7 1165.9 409.3 1169.5 C405.9 1173.1 403.3 1177.2 400.9 1181.6 C398.5 1186 396.2 1191.1 394.9 1196.1 C393.6 1201.1 393.3 1207.5 393 1211.8 C392.7 1216.1 392.8 1218.5 393.3 1222 C393.8 1225.5 394.6 1228.2 396.1 1233.1 C397.6 1238 400.1 1245.6 402.1 1251.2 C404.1 1256.8 406.5 1262.5 408.1 1266.9 C409.7 1271.3 410.6 1274 411.8 1277.8 C413 1281.6 413.8 1285.9 415.4 1289.9 C417 1293.9 419 1298.2 421.4 1302 C423.8 1305.8 426.5 1309.4 429.9 1312.8 C433.3 1316.2 437.4 1319.7 442 1322.5 C446.6 1325.3 452.1 1328.2 457.7 1329.7 C463.3 1331.2 470.9 1331.9 475.8 1331.5 C480.7 1331.1 483.7 1328.9 487.2 1327.3 C490.7 1325.7 493.2 1323.5 497 1322 C500.8 1320.5 505.4 1319.5 510 1318 C514.6 1316.5 520.7 1314.5 524.7 1312.8 C528.8 1311.1 531.7 1310.2 534.3 1308 C536.9 1305.8 538.9 1302.5 540.4 1299.5 C541.9 1296.5 541.9 1294.8 543.5 1289.9 C545.1 1285 547.9 1276.3 550 1270 C552.1 1263.7 554.8 1257 556 1252 C557.2 1247 557.1 1243.5 557.5 1240 C557.9 1236.5 557.8 1234.2 558.5 1231 C559.2 1227.8 560.5 1223.8 561.5 1221 C562.5 1218.2 563.6 1217.1 564.5 1214.2 C565.4 1211.3 566.5 1207.4 567 1203.4 C567.5 1199.4 567.8 1194.5 567.6 1190.1 C567.4 1185.7 566.8 1181.2 565.7 1176.8 C564.6 1172.4 563.1 1167.7 560.9 1163.5 C558.7 1159.3 555.9 1155 552.5 1151.4 C549.1 1147.8 544.4 1143.9 540.4 1141.8 C536.4 1139.7 532.3 1139 528.3 1138.7 C524.3 1138.4 520.2 1138.9 516.2 1140 C512.2 1141.1 507.6 1144 504.2 1145.4 C500.8 1146.8 497.9 1148.5 496 1148.6 C494.1 1148.7 493.3 1146.4 492.8 1146 C492.8 1147.7 492.8 1154.3 492.8 1156 C489 1156.2 475.8 1157.3 470 1157 C464.2 1156.7 461.8 1154.7 458 1154 C454.2 1153.3 451.4 1152.4 447.3 1152.6Z" fill="url(#gMgC)"/>
<g clip-path="url(#clipC)"><path d="M447.3 1152.6 C443.2 1152.8 437.8 1153.8 433.5 1155 C429.2 1156.2 425.4 1157.5 421.4 1159.9 C417.4 1162.3 412.7 1165.9 409.3 1169.5 C405.9 1173.1 403.3 1177.2 400.9 1181.6 C398.5 1186 396.2 1191.1 394.9 1196.1 C393.6 1201.1 393.3 1207.5 393 1211.8 C392.7 1216.1 392.8 1218.5 393.3 1222 C393.8 1225.5 394.6 1228.2 396.1 1233.1 C397.6 1238 400.1 1245.6 402.1 1251.2 C404.1 1256.8 406.5 1262.5 408.1 1266.9 C409.7 1271.3 410.6 1274 411.8 1277.8 C413 1281.6 413.8 1285.9 415.4 1289.9 C417 1293.9 419 1298.2 421.4 1302 C423.8 1305.8 426.5 1309.4 429.9 1312.8 C433.3 1316.2 437.4 1319.7 442 1322.5 C446.6 1325.3 452.1 1328.2 457.7 1329.7 C463.3 1331.2 470.9 1331.9 475.8 1331.5 C480.7 1331.1 483.7 1328.9 487.2 1327.3 C490.7 1325.7 493.2 1323.5 497 1322 C500.8 1320.5 505.4 1319.5 510 1318 C514.6 1316.5 520.7 1314.5 524.7 1312.8 C528.8 1311.1 531.7 1310.2 534.3 1308 C536.9 1305.8 538.9 1302.5 540.4 1299.5 C541.9 1296.5 541.9 1294.8 543.5 1289.9 C545.1 1285 547.9 1276.3 550 1270 C552.1 1263.7 554.8 1257 556 1252 C557.2 1247 557.1 1243.5 557.5 1240 C557.9 1236.5 557.8 1234.2 558.5 1231 C559.2 1227.8 560.5 1223.8 561.5 1221 C562.5 1218.2 563.6 1217.1 564.5 1214.2 C565.4 1211.3 566.5 1207.4 567 1203.4 C567.5 1199.4 567.8 1194.5 567.6 1190.1 C567.4 1185.7 566.8 1181.2 565.7 1176.8 C564.6 1172.4 563.1 1167.7 560.9 1163.5 C558.7 1159.3 555.9 1155 552.5 1151.4 C549.1 1147.8 544.4 1143.9 540.4 1141.8 C536.4 1139.7 532.3 1139 528.3 1138.7 C524.3 1138.4 520.2 1138.9 516.2 1140 C512.2 1141.1 507.6 1144 504.2 1145.4 C500.8 1146.8 497.9 1148.5 496 1148.6 C494.1 1148.7 493.3 1146.4 492.8 1146 C492.8 1147.7 492.8 1154.3 492.8 1156 C489 1156.2 475.8 1157.3 470 1157 C464.2 1156.7 461.8 1154.7 458 1154 C454.2 1153.3 451.4 1152.4 447.3 1152.6Z" fill="none" stroke="#ee2c58" stroke-width="7" opacity="0.75" filter="url(#blur2)"/></g>
<path d="M496.5 1155.4 C498.4 1155.8 504.1 1156.6 508 1158 C511.9 1159.4 516.4 1161.8 519.7 1164 C523 1166.2 525.6 1168.6 528 1171 C530.4 1173.4 532.4 1175.6 534.2 1178.6 C536 1181.6 537.5 1185.2 539 1189 C540.5 1192.8 542.1 1197.7 542.9 1201.7 C543.7 1205.7 543.8 1211.1 544 1213" fill="none" stroke="#f48db3" stroke-width="1.6" opacity="0.85" filter="url(#blur1)"/>
<path d="M496.5 1155.4 C498.4 1155.8 504.1 1156.6 508 1158 C511.9 1159.4 516.4 1161.8 519.7 1164 C523 1166.2 525.6 1168.6 528 1171 C530.4 1173.4 532.4 1175.6 534.2 1178.6 C536 1181.6 537.5 1185.2 539 1189 C540.5 1192.8 542.1 1197.7 542.9 1201.7 C543.7 1205.7 543.8 1211.1 544 1213" fill="none" stroke="#d61c50" stroke-width="1" opacity="0.7" transform="translate(2,-1.4)"/>
<path d="M397 1196 C395 1212 397 1226 402 1240 C405 1249 409 1260 412 1270" fill="none" stroke="#fbc4d8" stroke-width="1.6" opacity="0.8" filter="url(#blur1)"/>
<ellipse cx="470" cy="1126.3" rx="22.2" ry="5.8" fill="#fff" stroke="#ea2452" stroke-width="2.2"/>
<g class="dash"><path d="M379.8 1134.5 L373.1 1225 L373.8 1319 A6.4 3.4 0 0 0 386.6 1319 L384 1215 L388.8 1149"/><path d="M373.9 1318 A6.4 3 0 0 1 386.5 1318"/><path d="M376.5 1320.3 L384 1320.3 M377 1322 L383.5 1322"/></g>
<clipPath id="clipVC"><path d="M369.5 1097.7 C371.9 1097.5 376.6 1100.4 379.2 1100.7 C381.8 1101 383.3 1100.7 385.2 1099.5 C387.1 1098.3 388.7 1094.6 390.4 1093.6 C392.1 1092.6 394.6 1093.4 395.5 1093.4 C396.4 1094.2 399.9 1097.2 400.8 1098 C400.4 1098.5 399.4 1099.2 398.5 1100.7 C397.6 1102.2 396.3 1103.3 395.5 1106.7 C394.7 1110.1 393.8 1117.2 393.6 1121.2 C393.4 1125.2 393.7 1128.5 394.3 1131 C394.9 1133.5 395.2 1134.3 397 1136 C398.8 1137.7 399.9 1137.8 405 1141 C410.1 1144.2 415 1147.9 427.5 1155 C440 1162.1 467.2 1176.6 480 1183.4 C492.8 1190.2 496.1 1192.2 504.2 1196.1 C512.2 1200 520.2 1203.8 528.3 1207 C536.3 1210.2 546.5 1214.2 552.5 1215.4 C558.5 1216.6 561.3 1215.2 564.5 1214.2 C567.7 1213.2 570 1211.8 571.8 1209.4 C573.6 1207 574.6 1203.3 575.4 1199.7 C576.2 1196.1 576.8 1192.7 576.6 1187.7 C576.4 1182.7 574.8 1176 574.2 1169.5 C573.6 1163 573 1152.4 572.8 1149 C575.2 1149 585 1149 587.5 1149 C587.8 1152.4 588.7 1163 589.3 1169.5 C589.9 1176 591 1181.7 591.1 1187.7 C591.2 1193.8 590.7 1199.6 589.9 1205.8 C589.1 1212 587.3 1220.5 586.3 1225 C585.3 1229.5 584.9 1228.7 583.9 1233.1 C582.9 1237.5 581.4 1245.2 580.2 1251.2 C579 1257.2 577.4 1263.2 576.6 1269.3 C575.8 1275.3 575.7 1280.5 575.4 1287.5 C575.1 1294.5 574.9 1304.3 574.8 1311.6 C574.7 1318.8 574.8 1327.8 574.8 1331 C572.4 1331 562.7 1331 560.3 1331 C560.4 1327.8 560.7 1318.8 560.9 1311.6 C561.1 1304.3 561.4 1294.4 561.5 1287.5 C561.6 1280.6 561.2 1275.2 561.5 1270 C561.8 1264.8 562.6 1260.2 563 1256 C563.4 1251.8 563.9 1248.2 563.6 1245 C563.4 1241.8 562.9 1239.3 561.5 1237 C560.1 1234.7 557.2 1232.5 555 1231 C552.8 1229.5 550.4 1229.2 548 1228 C545.6 1226.8 543.7 1225.4 540.4 1223.9 C537.1 1222.4 534.3 1221.4 528.3 1219 C522.3 1216.6 512.2 1213 504.2 1209.4 C496.1 1205.8 494.8 1205.4 480 1197.6 C465.2 1189.8 429.6 1170.4 415.4 1162.3 C401.2 1154.2 400.2 1152.4 395 1149 C389.8 1145.6 386 1144 384 1141.8 C382 1139.6 383.1 1138.5 382.8 1135.7 C382.5 1132.9 382.2 1128.5 382.2 1124.9 C382.2 1121.3 383.9 1116.3 382.8 1114 C381.7 1111.7 378.4 1112 375.5 1111 C372.6 1110 367 1108.5 365.3 1108 C365.2 1107 364.6 1103 364.5 1102 C365.3 1101.3 367.1 1097.9 369.5 1097.7Z"/><path d="M385.2 1276.6 C388.2 1276.6 397.3 1277.2 403.3 1276.6 C409.3 1276 415.4 1274.7 421.4 1273 C427.4 1271.3 434.5 1269 439.5 1266.7 C444.5 1264.4 447.6 1261.7 451.6 1259.3 C455.6 1256.9 459 1254.5 463.7 1252.5 C468.4 1250.5 474.3 1248.9 480 1247.6 C485.7 1246.3 492.1 1245 498.1 1244.5 C504.1 1244 511.2 1244.4 516.2 1244.8 C521.2 1245.2 524.9 1246.1 528.3 1247 C531.7 1247.9 533.6 1249.3 536.8 1250 C540 1250.7 544.4 1251.3 547.6 1251.2 C550.8 1251.1 553.7 1249.8 556.1 1249.5 C558.5 1249.2 561 1249.5 562 1249.5 C563.7 1249.9 570.3 1251.6 572 1252 C571.7 1255.3 570.3 1268.7 570 1272 C568.5 1273 562.5 1276.8 561 1277.8 C560.4 1276.9 558.9 1273.5 557.3 1272.4 C555.7 1271.3 553.1 1270.9 551.3 1271.2 C549.5 1271.5 547.7 1272.6 546.4 1274.2 C545.1 1275.8 544.5 1278.7 543.6 1281 C542.7 1283.3 542.3 1285.7 541 1288 C539.7 1290.3 538 1292.6 536 1295 C534 1297.4 530.9 1299.8 529 1302.5 C527.1 1305.2 525.6 1308 524.5 1311.5 C523.4 1315 522.8 1318 522.5 1323.7 C522.2 1329.4 522.8 1341.8 522.9 1345.4 C518.4 1345.6 500.2 1346.4 495.7 1346.6 C495.7 1343.8 496.1 1335.1 495.7 1330 C495.3 1324.9 494.7 1320.2 493.3 1316 C491.9 1311.8 489.4 1307.8 487.2 1305 C485 1302.2 482.9 1300.7 480 1299 C477.1 1297.3 473.4 1296.2 469.7 1294.7 C466 1293.2 462.7 1291.3 457.7 1289.9 C452.7 1288.5 445.6 1287.2 439.5 1286.3 C433.4 1285.4 427.4 1284.6 421.4 1284.4 C415.4 1284.2 409.3 1285.3 403.3 1285 C397.3 1284.7 388.2 1283 385.2 1282.6 C385.2 1281.6 385.2 1277.6 385.2 1276.6Z"/></clipPath>
<g filter="url(#vout)">
<path d="M369.5 1097.7 C371.9 1097.5 376.6 1100.4 379.2 1100.7 C381.8 1101 383.3 1100.7 385.2 1099.5 C387.1 1098.3 388.7 1094.6 390.4 1093.6 C392.1 1092.6 394.6 1093.4 395.5 1093.4 C396.4 1094.2 399.9 1097.2 400.8 1098 C400.4 1098.5 399.4 1099.2 398.5 1100.7 C397.6 1102.2 396.3 1103.3 395.5 1106.7 C394.7 1110.1 393.8 1117.2 393.6 1121.2 C393.4 1125.2 393.7 1128.5 394.3 1131 C394.9 1133.5 395.2 1134.3 397 1136 C398.8 1137.7 399.9 1137.8 405 1141 C410.1 1144.2 415 1147.9 427.5 1155 C440 1162.1 467.2 1176.6 480 1183.4 C492.8 1190.2 496.1 1192.2 504.2 1196.1 C512.2 1200 520.2 1203.8 528.3 1207 C536.3 1210.2 546.5 1214.2 552.5 1215.4 C558.5 1216.6 561.3 1215.2 564.5 1214.2 C567.7 1213.2 570 1211.8 571.8 1209.4 C573.6 1207 574.6 1203.3 575.4 1199.7 C576.2 1196.1 576.8 1192.7 576.6 1187.7 C576.4 1182.7 574.8 1176 574.2 1169.5 C573.6 1163 573 1152.4 572.8 1149 C575.2 1149 585 1149 587.5 1149 C587.8 1152.4 588.7 1163 589.3 1169.5 C589.9 1176 591 1181.7 591.1 1187.7 C591.2 1193.8 590.7 1199.6 589.9 1205.8 C589.1 1212 587.3 1220.5 586.3 1225 C585.3 1229.5 584.9 1228.7 583.9 1233.1 C582.9 1237.5 581.4 1245.2 580.2 1251.2 C579 1257.2 577.4 1263.2 576.6 1269.3 C575.8 1275.3 575.7 1280.5 575.4 1287.5 C575.1 1294.5 574.9 1304.3 574.8 1311.6 C574.7 1318.8 574.8 1327.8 574.8 1331 C572.4 1331 562.7 1331 560.3 1331 C560.4 1327.8 560.7 1318.8 560.9 1311.6 C561.1 1304.3 561.4 1294.4 561.5 1287.5 C561.6 1280.6 561.2 1275.2 561.5 1270 C561.8 1264.8 562.6 1260.2 563 1256 C563.4 1251.8 563.9 1248.2 563.6 1245 C563.4 1241.8 562.9 1239.3 561.5 1237 C560.1 1234.7 557.2 1232.5 555 1231 C552.8 1229.5 550.4 1229.2 548 1228 C545.6 1226.8 543.7 1225.4 540.4 1223.9 C537.1 1222.4 534.3 1221.4 528.3 1219 C522.3 1216.6 512.2 1213 504.2 1209.4 C496.1 1205.8 494.8 1205.4 480 1197.6 C465.2 1189.8 429.6 1170.4 415.4 1162.3 C401.2 1154.2 400.2 1152.4 395 1149 C389.8 1145.6 386 1144 384 1141.8 C382 1139.6 383.1 1138.5 382.8 1135.7 C382.5 1132.9 382.2 1128.5 382.2 1124.9 C382.2 1121.3 383.9 1116.3 382.8 1114 C381.7 1111.7 378.4 1112 375.5 1111 C372.6 1110 367 1108.5 365.3 1108 C365.2 1107 364.6 1103 364.5 1102 C365.3 1101.3 367.1 1097.9 369.5 1097.7Z" fill="#68a9df"/>
<path d="M385.2 1276.6 C388.2 1276.6 397.3 1277.2 403.3 1276.6 C409.3 1276 415.4 1274.7 421.4 1273 C427.4 1271.3 434.5 1269 439.5 1266.7 C444.5 1264.4 447.6 1261.7 451.6 1259.3 C455.6 1256.9 459 1254.5 463.7 1252.5 C468.4 1250.5 474.3 1248.9 480 1247.6 C485.7 1246.3 492.1 1245 498.1 1244.5 C504.1 1244 511.2 1244.4 516.2 1244.8 C521.2 1245.2 524.9 1246.1 528.3 1247 C531.7 1247.9 533.6 1249.3 536.8 1250 C540 1250.7 544.4 1251.3 547.6 1251.2 C550.8 1251.1 553.7 1249.8 556.1 1249.5 C558.5 1249.2 561 1249.5 562 1249.5 C563.7 1249.9 570.3 1251.6 572 1252 C571.7 1255.3 570.3 1268.7 570 1272 C568.5 1273 562.5 1276.8 561 1277.8 C560.4 1276.9 558.9 1273.5 557.3 1272.4 C555.7 1271.3 553.1 1270.9 551.3 1271.2 C549.5 1271.5 547.7 1272.6 546.4 1274.2 C545.1 1275.8 544.5 1278.7 543.6 1281 C542.7 1283.3 542.3 1285.7 541 1288 C539.7 1290.3 538 1292.6 536 1295 C534 1297.4 530.9 1299.8 529 1302.5 C527.1 1305.2 525.6 1308 524.5 1311.5 C523.4 1315 522.8 1318 522.5 1323.7 C522.2 1329.4 522.8 1341.8 522.9 1345.4 C518.4 1345.6 500.2 1346.4 495.7 1346.6 C495.7 1343.8 496.1 1335.1 495.7 1330 C495.3 1324.9 494.7 1320.2 493.3 1316 C491.9 1311.8 489.4 1307.8 487.2 1305 C485 1302.2 482.9 1300.7 480 1299 C477.1 1297.3 473.4 1296.2 469.7 1294.7 C466 1293.2 462.7 1291.3 457.7 1289.9 C452.7 1288.5 445.6 1287.2 439.5 1286.3 C433.4 1285.4 427.4 1284.6 421.4 1284.4 C415.4 1284.2 409.3 1285.3 403.3 1285 C397.3 1284.7 388.2 1283 385.2 1282.6 C385.2 1281.6 385.2 1277.6 385.2 1276.6Z" fill="#68a9df"/>
</g>
<g clip-path="url(#clipC)"><path d="M451.6 1257.3 C453.6 1256.1 459 1252.1 463.7 1250 C468.4 1247.9 474.3 1246.1 480 1244.6 C485.7 1243.1 492.1 1241.7 498.1 1241.2 C504.1 1240.7 511.2 1241.2 516.2 1241.8 C521.2 1242.4 526.3 1244.5 528.3 1245" fill="none" stroke="#68a9df" stroke-width="4.5" stroke-linecap="round" transform="translate(0,3.6)"/><path d="M436 1266 C438.6 1264.5 447 1260 451.6 1257.3 C456.2 1254.6 459 1252.1 463.7 1250 C468.4 1247.9 474.3 1246.1 480 1244.6 C485.7 1243.1 492.1 1241.7 498.1 1241.2 C504.1 1240.7 511.2 1241.2 516.2 1241.8 C521.2 1242.4 524.7 1243.7 528.3 1245 C531.9 1246.3 536.4 1248.8 538 1249.5" fill="none" stroke="#68a9df" stroke-width="7.5" stroke-linecap="round" filter="url(#blur2)" transform="translate(0,1.8)"/></g>
<g clip-path="url(#clipVC)"><g fill="none" stroke="#c6e2f6" stroke-width="3.2" stroke-linecap="round" opacity="0.9" filter="url(#blur1)">
<path d="M386 1103 C387 1115 387 1128 390 1137 C400 1146 440 1168 480 1188 C505 1200 530 1210 552 1218"/>
<path d="M578 1156 C580 1175 583 1192 580 1207 C578 1215 574 1220 570 1224"/>
<path d="M565.5 1285 L565 1326"/>
<path d="M450 1289.5 C470 1292 485 1300 492 1312 C496 1322 498 1332 498 1342"/>
<path d="M392 1279 C410 1280 430 1278 446 1271"/>
</g></g>
<ellipse cx="502.3" cy="1272.4" rx="17.3" ry="15" fill="#fff" stroke="#333" stroke-width="1" stroke-dasharray="2.4 1.8"/>
<ellipse cx="580.1" cy="1148.6" rx="7.2" ry="2.4" transform="rotate(0 580.1 1148.6)" fill="#5d9fd9" stroke="#2f73bd" stroke-width="1.1"/><ellipse cx="580.1" cy="1148.6" rx="4.3" ry="1.3" transform="rotate(0 580.1 1148.6)" fill="#b8daf3"/>
<ellipse cx="567.6" cy="1332" rx="7" ry="2.5" transform="rotate(0 567.6 1332)" fill="#5d9fd9" stroke="#2f73bd" stroke-width="1.1"/><ellipse cx="567.6" cy="1332" rx="4.2" ry="1.4" transform="rotate(0 567.6 1332)" fill="#b8daf3"/>
<ellipse cx="509.3" cy="1347" rx="13.2" ry="4.6" transform="rotate(0 509.3 1347)" fill="#5d9fd9" stroke="#2f73bd" stroke-width="1.1"/><ellipse cx="509.3" cy="1347" rx="8.2" ry="2.6" transform="rotate(0 509.3 1347)" fill="#f2f8fd"/>
<ellipse cx="366.3" cy="1103" rx="2.3" ry="4.8" transform="rotate(20 366.3 1103)" fill="#5d9fd9" stroke="#2f73bd" stroke-width="1.1"/><ellipse cx="366.3" cy="1103" rx="1.1" ry="2.2" transform="rotate(20 366.3 1103)" fill="#b8daf3"/>
<ellipse cx="398" cy="1095.8" rx="3.2" ry="2" transform="rotate(35 398 1095.8)" fill="#5d9fd9" stroke="#2f73bd" stroke-width="1.1"/><ellipse cx="398" cy="1095.8" rx="1.6" ry="0.9" transform="rotate(35 398 1095.8)" fill="#b8daf3"/>
<path d="M523.5 1210.2 L548 1218.2" fill="none" stroke="#111" stroke-width="2.1"/><path d="M546.8 1214 L555.8 1220.6 L544.6 1221.8 Z" fill="#111"/>
<path d="M507.2 1322.5 L505.6 1303" fill="none" stroke="#111" stroke-width="2.1"/><path d="M504.8 1295.5 L509 1305.2 L501.8 1305.8 Z" fill="#111"/>
</g>
<g id="leaders" class="lead">
<!-- A -->
<path d="M398.3 39.3 L456.7 100"/>
<path d="M378.3 82.7 L471 166.7"/>
<path d="M331.6 139.7 L421.7 206 L427.7 265"/>
<path d="M275.4 201 L374.4 236.2"/>
<path d="M283.9 256.3 L397 277.4"/>
<path d="M291.5 320.6 L374.4 325.6"/>
<path d="M591.7 46.7 L526.7 123.3"/>
<path d="M628.3 137.3 L530 190 L518.3 255"/>
<path d="M632.3 201.7 L578.3 207.3"/>
<path d="M628.3 268.3 L549 256.7"/>
<path d="M623.3 325 L568.3 308.3"/>
<path d="M415 326 L460 368.3 L436.7 325"/>
<path d="M511.7 325 L488.3 368.3 L536.7 320"/>
<!-- B -->
<path d="M330 452 L378 498"/>
<path d="M543.5 461 L499.3 566.3"/>
<path d="M318.3 508.7 L455.5 644.8"/>
<path d="M306.7 565.3 L416.6 650.5"/>
<path d="M315 695.3 L395.4 714.8 L412.7 698.7 M395.4 714.8 L435.9 695.5 M395.4 714.8 L439.7 728.3 M395.4 714.8 L415.9 735.4"/>
<path d="M316.7 771.2 L445.7 783"/>
<path d="M305 845.3 L413.6 836.6"/>
<path d="M310 908.8 L399.3 875"/>
<path d="M646.7 498.7 L585 522"/>
<path d="M631.7 592 L514.7 653.8 M583 614.5 L527.6 617.8"/>
<path d="M670 676.5 L535.3 687.2"/>
<path d="M678.5 743.5 L508.3 723.2"/>
<path d="M693 825.5 L616.1 808"/>
<path d="M693 907.5 L572.6 911.9 L463.9 915.8 M544.3 893.6 L572.6 911.9 L540.7 947.7"/>
<path d="M466.8 993.3 L492.2 950.6"/>
<!-- C -->
<path d="M545 1072.3 L491.7 1123.7"/>
<path d="M305 1113 L502.3 1227.8"/>
<path d="M310 1188 L406.9 1211.8"/>
<path d="M296 1257 L391.2 1280.2"/>
<path d="M326.7 1305.7 L440.7 1275.4"/>
<path d="M670 1118 L610 1151.3 L511.7 1204.7 M610 1151.3 L585 1179.7"/>
<path d="M671.7 1189.7 L603.3 1221.3 L575 1233 M603.3 1221.3 L550 1263"/>
<path d="M660 1298 L568.3 1316.3"/>
<path d="M641.7 1361.3 L511.7 1331.3"/>
</g>
<g id="labels" class="lbl" opacity="0.99">
<text x="281.0" y="32.4">Truncus arteriosus</text>
<text x="575.0" y="40.6">Bulbus cordis</text>
<text x="262.0" y="78.7">Primordial atrium</text>
<text x="144.3" y="132.1">Left horn of sinus venosus</text>
<text x="635.0" y="138.2">Right horn of sinus venosus</text>
<text x="120.0" y="196.9">Anterior cardinal vein</text>
<text x="639.0" y="205.5">Anterior cardinal vein</text>
<text x="111.0" y="258.9">Common cardinal vein</text>
<text x="636.0" y="275.4">Common cardinal vein</text>
<text x="122.6" y="323.9">Posterior cardinal vein</text>
<text x="629" y="332.8">Posterior cardinal vein</text>
<text x="375" y="386.6">Vitelline and umbilical veins</text>
<text class="fig" x="92.7" y="386.0">A</text>

<text x="170.7" y="454.9">Anterior cardinal vein</text>
<text x="519" y="455.8">Anastomosis between anterior cardinal veins</text>
<text x="119.0" y="507.9">Left horn of sinus venosus</text>
<text x="654" y="502.5">Anterior cardinal vein</text>
<text x="136.0" y="563.5">Common cardinal vein</text>
<text x="639" y="586.4">Right horn of</text>
<text x="639" y="607.6">sinus venosus</text>
<text x="111.0" y="689.6">Degenerating proximal left</text>
<text x="111.0" y="710.7">umbilical and vitelline veins</text>
<text x="676" y="670.4">Degenerating right</text>
<text x="676" y="691.6">umbilical vein</text>
<text x="686" y="749.6">Inferior vena cava</text>
<text x="191.8" y="775.5">Ductus venosus</text>
<text x="201.3" y="841.5">Sphincter in</text>
<text x="201.3" y="862.7">ductus venosus</text>
<text x="701" y="831.5">Liver</text>
<text x="169" y="910">Persistent portion</text>
<text x="169" y="931">of left umbilical vein</text>
<text x="354" y="939">Placenta</text>
<text x="702" y="912.2">Vitelline veins forming portal vein</text>
<text x="404" y="1010">Duodenum</text>
<text class="fig" x="95.5" y="1011.5">B</text>

<text x="506" y="1068">Truncus arteriosus</text>
<text x="177" y="1109">Future right atrium</text>
<text x="655" y="1113">Left brachiocephalic vein</text>
<text x="180" y="1190">Future left atrium</text>
<text x="675" y="1190">Superior vena cava (SVC)</text>
<text x="200" y="1252">Oblique vein</text>
<text x="200" y="1273">of left atrium</text>
<text x="209" y="1312">Coronary sinus</text>
<text x="666" y="1302">Root of azygos vein</text>
<text x="648" y="1369.6">Inferior vena cava (IVC)</text>
<text class="fig" x="95.5" y="1369.5">C</text>
</g>
</svg>
</body>
</html>
